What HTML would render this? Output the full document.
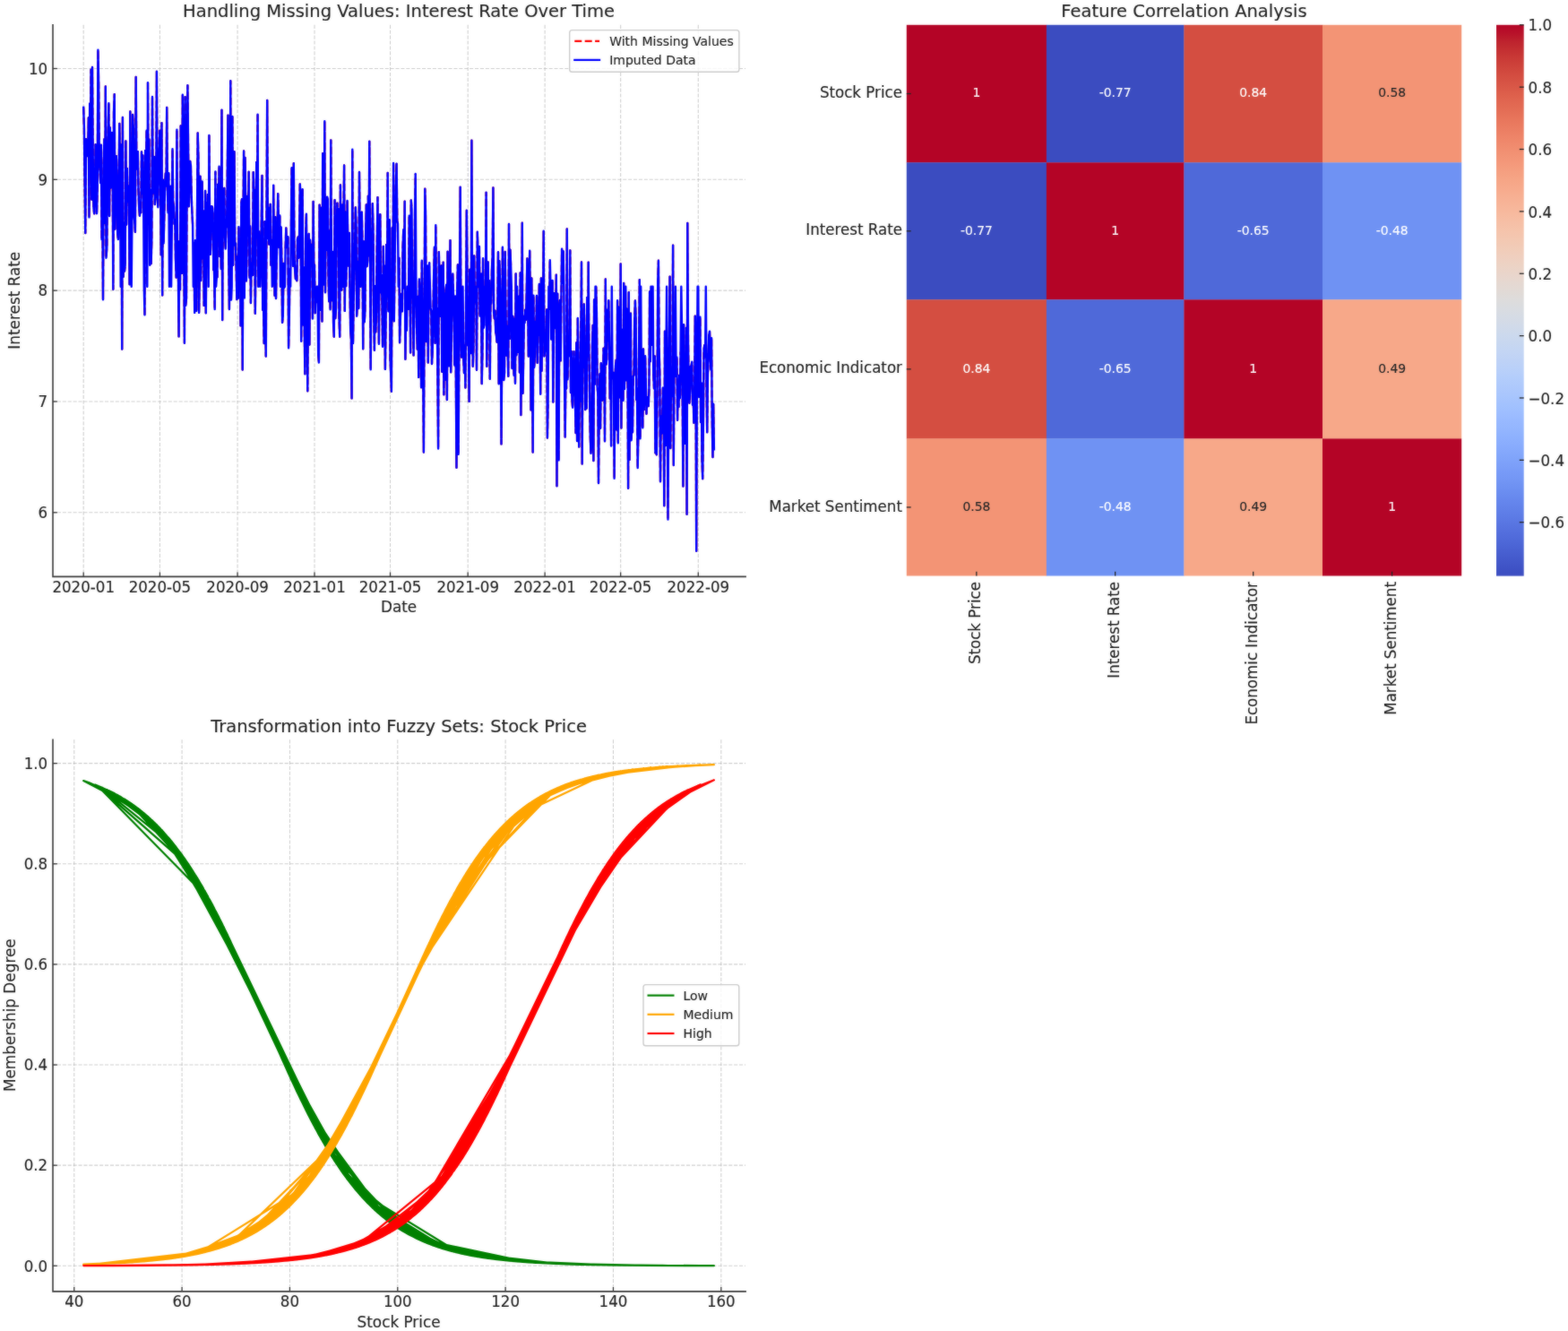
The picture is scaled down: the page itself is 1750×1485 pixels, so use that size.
<!DOCTYPE html>
<html lang="en">
<head>
<meta charset="utf-8">
<title>Feature analysis charts</title>
<style>
html, body { margin: 0; padding: 0; background: #ffffff; }
body { width: 1750px; height: 1485px; overflow: hidden; }
svg { display: block; }
svg text { font-family: "DejaVu Sans", "Liberation Sans", sans-serif; white-space: pre; }
</style>
</head>
<body>
<svg width="1750" height="1485" viewBox="0 0 1750 1485" font-family='"DejaVu Sans", "Liberation Sans", sans-serif'>
<rect width="1750" height="1485" fill="#ffffff"/>
<defs><filter id="soft" x="0" y="0" width="1750" height="1485" filterUnits="userSpaceOnUse" color-interpolation-filters="sRGB"><feGaussianBlur in="SourceGraphic" stdDeviation="0.9" result="b"/><feComposite in="b" in2="SourceGraphic" operator="arithmetic" k1="0" k2="0.35" k3="0.65" k4="0"/></filter></defs>
<g filter="url(#soft)">
<rect width="1750" height="1485" fill="#ffffff"/>
<line x1="93.19" y1="27.8" x2="93.19" y2="642.6" stroke="#b0b0b0" stroke-width="1.1" stroke-dasharray="4.1 1.8" opacity="0.6"/>
<line x1="178.42" y1="27.8" x2="178.42" y2="642.6" stroke="#b0b0b0" stroke-width="1.1" stroke-dasharray="4.1 1.8" opacity="0.6"/>
<line x1="265.07" y1="27.8" x2="265.07" y2="642.6" stroke="#b0b0b0" stroke-width="1.1" stroke-dasharray="4.1 1.8" opacity="0.6"/>
<line x1="351.01" y1="27.8" x2="351.01" y2="642.6" stroke="#b0b0b0" stroke-width="1.1" stroke-dasharray="4.1 1.8" opacity="0.6"/>
<line x1="435.54" y1="27.8" x2="435.54" y2="642.6" stroke="#b0b0b0" stroke-width="1.1" stroke-dasharray="4.1 1.8" opacity="0.6"/>
<line x1="522.19" y1="27.8" x2="522.19" y2="642.6" stroke="#b0b0b0" stroke-width="1.1" stroke-dasharray="4.1 1.8" opacity="0.6"/>
<line x1="608.13" y1="27.8" x2="608.13" y2="642.6" stroke="#b0b0b0" stroke-width="1.1" stroke-dasharray="4.1 1.8" opacity="0.6"/>
<line x1="692.66" y1="27.8" x2="692.66" y2="642.6" stroke="#b0b0b0" stroke-width="1.1" stroke-dasharray="4.1 1.8" opacity="0.6"/>
<line x1="779.3" y1="27.8" x2="779.3" y2="642.6" stroke="#b0b0b0" stroke-width="1.1" stroke-dasharray="4.1 1.8" opacity="0.6"/>
<line x1="58" y1="571.81" x2="832.1" y2="571.81" stroke="#b0b0b0" stroke-width="1.1" stroke-dasharray="4.1 1.8" opacity="0.6"/>
<line x1="58" y1="447.98" x2="832.1" y2="447.98" stroke="#b0b0b0" stroke-width="1.1" stroke-dasharray="4.1 1.8" opacity="0.6"/>
<line x1="58" y1="324.15" x2="832.1" y2="324.15" stroke="#b0b0b0" stroke-width="1.1" stroke-dasharray="4.1 1.8" opacity="0.6"/>
<line x1="58" y1="200.32" x2="832.1" y2="200.32" stroke="#b0b0b0" stroke-width="1.1" stroke-dasharray="4.1 1.8" opacity="0.6"/>
<line x1="58" y1="76.49" x2="832.1" y2="76.49" stroke="#b0b0b0" stroke-width="1.1" stroke-dasharray="4.1 1.8" opacity="0.6"/>
<clipPath id="c1"><rect x="58.0" y="27.8" width="774.1" height="614.8000000000001"/></clipPath>
<g clip-path="url(#c1)">
<path d="M93.2 119.8L93.9 141.6L94.6 205.1L95.3 260.0L96.0 155.2L96.7 174.3L97.4 165.9L98.1 172.2L98.8 131.5L99.5 242.4L100.2 115.5L100.9 185.0L101.6 77.8L102.3 222.5L103.0 75.0L103.8 184.8L104.5 232.1L105.2 238.4L105.9 213.4L106.6 161.3L107.3 191.1L108.0 238.3L108.7 208.1L109.4 55.7L110.1 92.6L110.8 180.9L111.5 190.2L112.2 204.2L112.9 161.8L113.6 267.2L114.3 216.2L115.0 334.3L115.7 183.4L116.4 155.3L117.1 248.9L117.8 96.4L118.5 287.7L119.3 275.9L120.0 179.4L120.7 147.6L121.4 115.1L122.1 241.0L122.8 142.5L123.5 209.6L124.2 203.6L124.9 147.9L125.6 165.6L126.3 322.7L127.0 125.1L127.7 105.2L128.4 255.5L129.1 183.7L129.8 174.2L130.5 204.9L131.2 260.5L131.9 267.1L132.6 205.4L133.3 138.0L134.0 185.1M135.5 161.5L136.2 389.5L136.9 130.9L137.6 308.8L138.3 248.7L139.0 302.6L139.7 296.0L140.4 157.5L141.1 250.6L141.8 188.0L142.5 225.1L143.2 207.4L143.9 213.0L144.6 317.2L145.3 124.5L146.0 259.7M147.4 242.2L148.1 127.9L148.8 142.7L149.5 239.0L150.2 246.4L150.9 258.9L151.7 85.9L152.4 187.5L153.1 188.6L153.8 169.2L154.5 211.2L155.2 231.6L155.9 240.9L156.6 228.3L157.3 237.2L158.0 169.4L158.7 216.1L159.4 173.4L160.1 210.7M161.5 351.3L162.2 167.9L162.9 200.5L163.6 145.8M165.0 92.1L165.7 224.6L166.4 155.5L167.2 295.7L167.9 212.0L168.6 294.2L169.3 268.9L170.0 107.9L170.7 215.6L171.4 214.0L172.1 175.0L172.8 228.1L173.5 216.9L174.2 210.0L174.9 79.8L175.6 218.4L176.3 231.3L177.0 174.1L177.7 171.4L178.4 145.6L179.1 208.4L179.8 284.2L180.5 137.2L181.2 329.4L181.9 200.6L182.6 271.5L183.4 237.3L184.1 205.7L184.8 193.5L185.5 207.5L186.2 120.0L186.9 211.1L187.6 237.3L188.3 193.3M189.7 306.3L190.4 207.6M191.8 256.3L192.5 166.3L193.2 224.9L193.9 230.3L194.6 250.0L195.3 245.0L196.0 289.1L196.7 309.6L197.4 144.8L198.1 293.4L198.9 302.0L199.6 375.4L200.3 269.1L201.0 323.0L201.7 140.5L202.4 167.4L203.1 304.7L203.8 105.7L204.5 164.0L205.2 268.0L205.9 382.7L206.6 108.1L207.3 340.9L208.0 332.4L208.7 189.6L209.4 95.3L210.1 165.9L210.8 230.3L211.5 202.1L212.2 180.0L212.9 184.5L213.6 215.2L214.3 235.6L215.1 251.3M216.5 271.3L217.2 348.9L217.9 268.3L218.6 302.4L219.3 346.7L220.0 241.6L220.7 148.4L221.4 175.3L222.1 348.9L222.8 304.4L223.5 196.8L224.2 313.1L224.9 259.7L225.6 202.4L226.3 288.4L227.0 235.4L227.7 340.9L228.4 287.8L229.1 212.9L229.8 349.2L230.6 226.2L231.3 239.2L232.0 216.9M233.4 151.0L234.1 246.6L234.8 283.7L235.5 256.2L236.2 230.1L236.9 230.8L237.6 237.0L238.3 301.2L239.0 299.0L239.7 345.1L240.4 191.5M241.8 309.6L242.5 309.2L243.2 205.8L243.9 267.7L244.6 185.8L245.3 286.0L246.0 233.9L246.8 300.1L247.5 122.8L248.2 357.1L248.9 212.8L249.6 224.6L250.3 210.0L251.0 261.5L251.7 277.6L252.4 254.4L253.1 252.4L253.8 188.3L254.5 128.6L255.2 282.8L255.9 345.1L256.6 263.9L257.3 90.3L258.0 334.6M259.4 129.9L260.1 295.7L260.8 215.9L261.5 169.3L262.2 273.5L263.0 271.3L263.7 302.6L264.4 334.1L265.1 286.1L265.8 332.7L266.5 253.3L267.2 301.1L267.9 269.2L268.6 363.4L269.3 226.2L270.0 222.3L270.7 412.5L271.4 252.7L272.1 168.5L272.8 332.4L273.5 175.9L274.2 229.3L274.9 313.4L275.6 277.6L276.3 218.7L277.0 259.6L277.7 191.8L278.5 309.8L279.2 252.2L279.9 338.1L280.6 293.4L281.3 304.8L282.0 306.9L282.7 192.1L283.4 217.5L284.1 212.0L284.8 349.8L285.5 287.7L286.2 181.0L286.9 265.4L287.6 127.6M289.0 258.2L289.7 283.9M291.1 287.6L291.8 246.0L292.5 195.9L293.2 345.8L293.9 329.2L294.7 383.0L295.4 247.3L296.1 343.5L296.8 397.5L297.5 245.6L298.2 112.0L298.9 265.8L299.6 231.6L300.3 272.6L301.0 271.0L301.7 227.9L302.4 295.7L303.1 267.7M304.5 305.8L305.2 206.6L305.9 295.3L306.6 329.8L307.3 242.2L308.0 333.0L308.7 290.3L309.4 269.7L310.2 216.2L310.9 245.0L311.6 276.0L312.3 240.4M313.7 253.5L314.4 293.7L315.1 359.9L315.8 353.0L316.5 294.0L317.2 320.9M318.6 277.3L319.3 254.5L320.0 274.4L320.7 276.2L321.4 264.2L322.1 388.2L322.8 353.6L323.5 300.1M324.9 252.5L325.6 187.2L326.4 195.8L327.1 296.8L327.8 182.2L328.5 286.0L329.2 302.4L329.9 311.4L330.6 298.6L331.3 313.3L332.0 266.8L332.7 264.5L333.4 287.7L334.1 261.1L334.8 205.4L335.5 221.0L336.2 380.7M337.6 211.1L338.3 362.3L339.0 298.1L339.7 363.4L340.4 417.2L341.1 264.7L341.9 238.8L342.6 323.5L343.3 436.3L344.0 322.2L344.7 261.0L345.4 384.6L346.1 267.7L346.8 296.9L347.5 272.9L348.2 281.3L348.9 355.5L349.6 225.0L350.3 295.7L351.0 295.5L351.7 349.2L352.4 320.2L353.1 337.0M355.2 395.5L355.9 404.6L356.6 228.6L357.3 296.7L358.1 345.8L358.8 231.7L359.5 358.6L360.2 171.2L360.9 242.2L361.6 317.6L362.3 135.2L363.0 326.3L363.7 240.2L364.4 279.1L365.1 219.6L365.8 222.8L366.5 306.3L367.2 336.3L367.9 257.4L368.6 345.3L369.3 156.5L370.0 312.0L370.7 335.2L371.4 281.0L372.1 360.7L372.8 375.7L373.6 223.2L374.3 355.2L375.0 344.6L375.7 259.1L376.4 226.6L377.1 256.3L377.8 233.2L378.5 355.3L379.2 375.8L379.9 206.5L380.6 322.9L381.3 323.6L382.0 228.5M383.4 255.2L384.1 184.5L384.8 346.9L385.5 236.5L386.2 319.1L386.9 288.5L387.6 223.9L388.3 273.6L389.0 296.6L389.8 260.0L390.5 324.5L391.2 369.2L391.9 378.1L392.6 444.4L393.3 166.7L394.0 383.0L394.7 333.2L395.4 302.0L396.1 273.2L396.8 231.4L397.5 250.8L398.2 352.7L398.9 336.9L399.6 291.6L400.3 344.0L401.0 192.0L401.7 257.4M403.1 273.1L403.8 236.6L404.5 273.1L405.2 389.3L406.0 269.5L406.7 359.3L407.4 348.2L408.1 263.2L408.8 228.4L409.5 297.2L410.2 292.0L410.9 218.6L411.6 285.3L412.3 157.8L413.0 271.3L413.7 412.3L414.4 265.4L415.1 277.2L415.8 227.2L416.5 257.6L417.2 347.3L417.9 390.8L418.6 319.1L419.3 370.4L420.0 349.9L420.7 276.4L421.5 220.1L422.2 301.0L422.9 383.8L423.6 281.9L424.3 239.3L425.0 326.3L425.7 306.9L426.4 333.6L427.1 386.8L427.8 274.9L428.5 333.0L429.2 296.5L429.9 411.9L430.6 360.0L431.3 273.0L432.0 330.8L432.7 193.0L433.4 347.3L434.1 297.0L434.8 245.2L435.5 400.6L436.2 416.7L436.9 436.7L437.7 254.3L438.4 355.9L439.1 182.0L439.8 358.2L440.5 300.4L441.2 246.2L441.9 205.5L442.6 182.8L443.3 246.4L444.0 249.5M445.4 287.6L446.1 382.3L446.8 358.1L447.5 332.2L448.2 327.7L448.9 347.5L449.6 275.3L450.3 256.2L451.0 321.4L451.7 224.7L452.4 400.8L453.2 338.4L453.9 368.7M455.3 325.7L456.0 344.9L456.7 240.7L457.4 277.3L458.1 393.4L458.8 223.5L459.5 233.0M460.9 335.5L461.6 396.4L462.3 343.8L463.0 240.7L463.7 193.9M465.1 364.7L465.8 389.6L466.5 330.9L467.2 420.9L467.9 311.4L468.6 326.6L469.4 353.5L470.1 432.3L470.8 290.7L471.5 361.7L472.2 418.6L472.9 504.6L473.6 346.2L474.3 210.7L475.0 238.4L475.7 381.1L476.4 341.9L477.1 296.5L477.8 404.6L478.5 314.7L479.2 293.3M480.6 343.9L481.3 347.6L482.0 406.0L482.7 391.8L483.4 355.9L484.1 310.1L484.9 275.6L485.6 382.8L486.3 251.1L487.0 350.5L487.7 344.1L488.4 411.4L489.1 500.5L489.8 281.1L490.5 309.4L491.2 352.8L491.9 311.3L492.6 296.5L493.3 414.7L494.0 369.8L494.7 292.7L495.4 440.3L496.1 328.0L496.8 423.6L497.5 324.0L498.2 317.7L498.9 446.0L499.6 280.8L500.3 370.8L501.1 408.2L501.8 335.9L502.5 268.1L503.2 415.3L503.9 369.1M505.3 305.5L506.0 329.0L506.7 358.0L507.4 407.6L508.1 330.4L508.8 413.9L509.5 521.8L510.2 326.0L510.9 295.5L511.6 506.7L512.3 404.0L513.0 306.4L513.7 208.8L514.4 341.8L515.1 398.6L515.8 369.8M517.3 400.3L518.0 416.1L518.7 385.1L519.4 432.6L520.1 333.4L520.8 234.8L521.5 309.0L522.2 385.4L522.9 377.7L523.6 447.9L524.3 300.8L525.0 343.2L525.7 394.0L526.4 156.7L527.1 335.9L527.8 408.8L528.5 385.9L529.2 285.4L529.9 337.2M531.3 320.9L532.0 412.8L532.8 258.8L533.5 282.1M534.9 274.9L535.6 352.5L536.3 317.0L537.0 305.5L537.7 428.1L538.4 394.9L539.1 288.2L539.8 365.7L540.5 362.2M541.9 332.9L542.6 214.8L543.3 408.8L544.0 353.3L544.7 292.5L545.4 361.2L546.1 313.1L546.8 422.7L547.5 330.3L548.2 338.7L549.0 299.0L549.7 284.6L550.4 209.5L551.1 348.5L551.8 355.5L552.5 346.6L553.2 370.4L553.9 373.4L554.6 381.7L555.3 352.7L556.0 281.3L556.7 428.2L557.4 291.3M558.8 364.7L559.5 495.4L560.2 395.6L560.9 275.8L561.6 367.9L562.3 424.1L563.0 415.6L563.7 281.0L564.5 345.8L565.2 396.6L565.9 363.7L566.6 386.9L567.3 419.7L568.0 250.0L568.7 378.0L569.4 278.8L570.1 295.7M571.5 411.1L572.2 352.8L572.9 356.7L573.6 418.8L574.3 355.6L575.0 427.8L575.7 305.4L576.4 396.2M577.8 362.1L578.5 392.7L579.2 330.6L579.9 415.4L580.7 304.5L581.4 463.1L582.1 371.9L582.8 248.7L583.5 438.8L584.2 399.6L584.9 353.0L585.6 360.2L586.3 345.7L587.0 356.8L587.7 326.3L588.4 288.5L589.1 330.2L589.8 397.5L590.5 317.8L591.2 279.7L591.9 358.3L592.6 457.4L593.3 310.4L594.0 382.8L594.7 504.6L595.4 329.6L596.2 410.0L596.9 396.8L597.6 358.7L598.3 368.1L599.0 329.9L599.7 404.8L600.4 350.9L601.1 374.0L601.8 316.9L602.5 350.7L603.2 439.8L603.9 310.5L604.6 413.7L605.3 334.8L606.0 351.4L606.7 257.6L607.4 397.6L608.1 391.1L608.8 388.0L609.5 379.7L610.2 345.5L610.9 488.5L611.6 451.2M613.1 345.1L613.8 290.2M615.2 378.6L615.9 372.2L616.6 312.9L617.3 448.6L618.0 361.3L618.7 327.2L619.4 345.1L620.1 366.4L620.8 306.6L621.5 542.2L622.2 327.8L622.9 415.2L623.6 513.4L624.3 343.8L625.0 335.0L625.7 402.4L626.4 331.3L627.1 277.8L627.9 315.7L628.6 280.1M630.0 416.3L630.7 487.5L631.4 419.2L632.1 433.5L632.8 255.4L633.5 423.3L634.2 375.3L634.9 379.3L635.6 397.3L636.3 279.5L637.0 438.1L637.7 391.9L638.4 445.9L639.1 454.7L639.8 421.6L640.5 392.2L641.2 418.8L641.9 444.0L642.6 483.0L643.3 382.5L644.1 492.1L644.8 354.9L645.5 396.5L646.2 498.6L646.9 424.6L647.6 447.7L648.3 375.0L649.0 292.4L649.7 517.6L650.4 391.9L651.1 409.9L651.8 339.5L652.5 370.6L653.2 457.0L653.9 416.9L654.6 455.6L655.3 331.9L656.0 397.4L656.7 292.6L657.4 396.3L658.1 444.2L658.8 487.4L659.5 505.9L660.3 494.1L661.0 386.3L661.7 363.0L662.4 514.1L663.1 334.4L663.8 428.7M665.2 319.7L665.9 348.8L666.6 431.5L667.3 439.1L668.0 539.1L668.7 458.4L669.4 417.2L670.1 477.7L670.8 405.3L671.5 416.5L672.2 446.5L672.9 440.1L673.6 388.6L674.3 395.5L675.0 492.2L675.8 311.5L676.5 406.5L677.2 401.2L677.9 345.6L678.6 380.5L679.3 335.1L680.0 379.5L680.7 444.6L681.4 387.8L682.1 497.6M683.5 422.3L684.2 418.5L684.9 415.9L685.6 533.7L686.3 429.1L687.0 408.3L687.7 401.7L688.4 479.5L689.1 335.3L689.8 494.3L690.5 342.6L691.2 377.8L692.0 443.3L692.7 294.5L693.4 477.5L694.1 369.6L694.8 367.7L695.5 446.7L696.2 316.0L696.9 434.1L697.6 388.3M699.0 424.3L699.7 344.8L700.4 384.0L701.1 544.8L701.8 326.2L702.5 512.9L703.2 354.6L703.9 349.6L704.6 491.2L705.3 466.1L706.0 482.3L706.7 419.7L707.5 418.5L708.2 359.4L708.9 335.5L709.6 353.0L710.3 445.9L711.0 433.5L711.7 522.0L712.4 482.8L713.1 390.0L713.8 312.1L714.5 489.3M715.9 429.5L716.6 425.2L717.3 477.3L718.0 389.5L718.7 457.1L719.4 435.3L720.1 397.3L720.8 427.1L721.5 461.7L722.2 443.0L722.9 444.5L723.7 453.1L724.4 436.4L725.1 325.5L725.8 403.2M727.2 384.8M729.3 417.1L730.0 433.4L730.7 397.5L731.4 505.3L732.1 504.2L732.8 507.3L733.5 443.6L734.2 314.8L734.9 290.7L735.6 390.0L736.3 415.2L737.0 537.2L737.7 464.2L738.4 483.7L739.2 468.4L739.9 432.8L740.6 459.8L741.3 564.2L742.0 369.6L742.7 497.0L743.4 405.7M744.8 467.7L745.5 579.6L746.2 452.5L746.9 381.6L747.6 308.6L748.3 500.1L749.0 423.7L749.7 442.2L750.4 410.9L751.1 273.6L751.8 519.0L752.5 404.0L753.2 412.4M754.6 420.1L755.4 398.4L756.1 468.7L756.8 425.2L757.5 454.1L758.2 418.7L758.9 444.2L759.6 392.6M761.0 365.1L761.7 441.8L762.4 542.6L763.1 362.3L763.8 476.9L764.5 494.9L765.2 472.7L765.9 365.8L766.6 573.8L767.3 249.0L768.0 379.5L768.7 429.8L769.4 449.7L770.1 437.3L770.8 409.0L771.6 407.9L772.3 403.8L773.0 451.8L773.7 443.6L774.4 471.7L775.1 451.9L775.8 352.6L776.5 405.6L777.2 614.7L777.9 411.1M780.0 442.7L780.7 367.1L781.4 353.8L782.1 471.0L782.8 427.2L783.5 513.2L784.2 534.2L784.9 470.6L785.6 390.0L786.3 385.2L787.1 398.4M788.5 423.9L789.2 482.2L789.9 419.1L790.6 398.8L791.3 374.0L792.0 369.6L792.7 394.2L793.4 412.6L794.1 377.2L794.8 471.1L795.5 510.0L796.2 450.8L796.9 501.2" fill="none" stroke="#ff0000" stroke-width="2.3" stroke-linejoin="round" stroke-linecap="butt" stroke-dasharray="8 3.4"/>
<path d="M93.2 119.8L93.9 141.6L94.6 205.1L95.3 260.0L96.0 155.2L96.7 174.3L97.4 165.9L98.1 172.2L98.8 131.5L99.5 242.4L100.2 115.5L100.9 185.0L101.6 77.8L102.3 222.5L103.0 75.0L103.8 184.8L104.5 232.1L105.2 238.4L105.9 213.4L106.6 161.3L107.3 191.1L108.0 238.3L108.7 208.1L109.4 55.7L110.1 92.6L110.8 180.9L111.5 190.2L112.2 204.2L112.9 161.8L113.6 267.2L114.3 216.2L115.0 334.3L115.7 183.4L116.4 155.3L117.1 248.9L117.8 96.4L118.5 287.7L119.3 275.9L120.0 179.4L120.7 147.6L121.4 115.1L122.1 241.0L122.8 142.5L123.5 209.6L124.2 203.6L124.9 147.9L125.6 165.6L126.3 322.7L127.0 125.1L127.7 105.2L128.4 255.5L129.1 183.7L129.8 174.2L130.5 204.9L131.2 260.5L131.9 267.1L132.6 205.4L133.3 138.0L134.0 185.1L134.7 319.7L135.5 161.5L136.2 389.5L136.9 130.9L137.6 308.8L138.3 248.7L139.0 302.6L139.7 296.0L140.4 157.5L141.1 250.6L141.8 188.0L142.5 225.1L143.2 207.4L143.9 213.0L144.6 317.2L145.3 124.5L146.0 259.7L146.7 319.7L147.4 242.2L148.1 127.9L148.8 142.7L149.5 239.0L150.2 246.4L150.9 258.9L151.7 85.9L152.4 187.5L153.1 188.6L153.8 169.2L154.5 211.2L155.2 231.6L155.9 240.9L156.6 228.3L157.3 237.2L158.0 169.4L158.7 216.1L159.4 173.4L160.1 210.7L160.8 319.7L161.5 351.3L162.2 167.9L162.9 200.5L163.6 145.8L164.3 319.7L165.0 92.1L165.7 224.6L166.4 155.5L167.2 295.7L167.9 212.0L168.6 294.2L169.3 268.9L170.0 107.9L170.7 215.6L171.4 214.0L172.1 175.0L172.8 228.1L173.5 216.9L174.2 210.0L174.9 79.8L175.6 218.4L176.3 231.3L177.0 174.1L177.7 171.4L178.4 145.6L179.1 208.4L179.8 284.2L180.5 137.2L181.2 329.4L181.9 200.6L182.6 271.5L183.4 237.3L184.1 205.7L184.8 193.5L185.5 207.5L186.2 120.0L186.9 211.1L187.6 237.3L188.3 193.3L189.0 319.7L189.7 306.3L190.4 207.6L191.1 319.7L191.8 256.3L192.5 166.3L193.2 224.9L193.9 230.3L194.6 250.0L195.3 245.0L196.0 289.1L196.7 309.6L197.4 144.8L198.1 293.4L198.9 302.0L199.6 375.4L200.3 269.1L201.0 323.0L201.7 140.5L202.4 167.4L203.1 304.7L203.8 105.7L204.5 164.0L205.2 268.0L205.9 382.7L206.6 108.1L207.3 340.9L208.0 332.4L208.7 189.6L209.4 95.3L210.1 165.9L210.8 230.3L211.5 202.1L212.2 180.0L212.9 184.5L213.6 215.2L214.3 235.6L215.1 251.3L215.8 319.7L216.5 271.3L217.2 348.9L217.9 268.3L218.6 302.4L219.3 346.7L220.0 241.6L220.7 148.4L221.4 175.3L222.1 348.9L222.8 304.4L223.5 196.8L224.2 313.1L224.9 259.7L225.6 202.4L226.3 288.4L227.0 235.4L227.7 340.9L228.4 287.8L229.1 212.9L229.8 349.2L230.6 226.2L231.3 239.2L232.0 216.9L232.7 319.7L233.4 151.0L234.1 246.6L234.8 283.7L235.5 256.2L236.2 230.1L236.9 230.8L237.6 237.0L238.3 301.2L239.0 299.0L239.7 345.1L240.4 191.5L241.1 319.7L241.8 309.6L242.5 309.2L243.2 205.8L243.9 267.7L244.6 185.8L245.3 286.0L246.0 233.9L246.8 300.1L247.5 122.8L248.2 357.1L248.9 212.8L249.6 224.6L250.3 210.0L251.0 261.5L251.7 277.6L252.4 254.4L253.1 252.4L253.8 188.3L254.5 128.6L255.2 282.8L255.9 345.1L256.6 263.9L257.3 90.3L258.0 334.6L258.7 319.7L259.4 129.9L260.1 295.7L260.8 215.9L261.5 169.3L262.2 273.5L263.0 271.3L263.7 302.6L264.4 334.1L265.1 286.1L265.8 332.7L266.5 253.3L267.2 301.1L267.9 269.2L268.6 363.4L269.3 226.2L270.0 222.3L270.7 412.5L271.4 252.7L272.1 168.5L272.8 332.4L273.5 175.9L274.2 229.3L274.9 313.4L275.6 277.6L276.3 218.7L277.0 259.6L277.7 191.8L278.5 309.8L279.2 252.2L279.9 338.1L280.6 293.4L281.3 304.8L282.0 306.9L282.7 192.1L283.4 217.5L284.1 212.0L284.8 349.8L285.5 287.7L286.2 181.0L286.9 265.4L287.6 127.6L288.3 319.7L289.0 258.2L289.7 283.9L290.4 319.7L291.1 287.6L291.8 246.0L292.5 195.9L293.2 345.8L293.9 329.2L294.7 383.0L295.4 247.3L296.1 343.5L296.8 397.5L297.5 245.6L298.2 112.0L298.9 265.8L299.6 231.6L300.3 272.6L301.0 271.0L301.7 227.9L302.4 295.7L303.1 267.7L303.8 319.7L304.5 305.8L305.2 206.6L305.9 295.3L306.6 329.8L307.3 242.2L308.0 333.0L308.7 290.3L309.4 269.7L310.2 216.2L310.9 245.0L311.6 276.0L312.3 240.4L313.0 319.7L313.7 253.5L314.4 293.7L315.1 359.9L315.8 353.0L316.5 294.0L317.2 320.9L317.9 319.7L318.6 277.3L319.3 254.5L320.0 274.4L320.7 276.2L321.4 264.2L322.1 388.2L322.8 353.6L323.5 300.1L324.2 319.7L324.9 252.5L325.6 187.2L326.4 195.8L327.1 296.8L327.8 182.2L328.5 286.0L329.2 302.4L329.9 311.4L330.6 298.6L331.3 313.3L332.0 266.8L332.7 264.5L333.4 287.7L334.1 261.1L334.8 205.4L335.5 221.0L336.2 380.7L336.9 319.7L337.6 211.1L338.3 362.3L339.0 298.1L339.7 363.4L340.4 417.2L341.1 264.7L341.9 238.8L342.6 323.5L343.3 436.3L344.0 322.2L344.7 261.0L345.4 384.6L346.1 267.7L346.8 296.9L347.5 272.9L348.2 281.3L348.9 355.5L349.6 225.0L350.3 295.7L351.0 295.5L351.7 349.2L352.4 320.2L353.1 337.0L353.8 319.7L354.5 319.7L355.2 395.5L355.9 404.6L356.6 228.6L357.3 296.7L358.1 345.8L358.8 231.7L359.5 358.6L360.2 171.2L360.9 242.2L361.6 317.6L362.3 135.2L363.0 326.3L363.7 240.2L364.4 279.1L365.1 219.6L365.8 222.8L366.5 306.3L367.2 336.3L367.9 257.4L368.6 345.3L369.3 156.5L370.0 312.0L370.7 335.2L371.4 281.0L372.1 360.7L372.8 375.7L373.6 223.2L374.3 355.2L375.0 344.6L375.7 259.1L376.4 226.6L377.1 256.3L377.8 233.2L378.5 355.3L379.2 375.8L379.9 206.5L380.6 322.9L381.3 323.6L382.0 228.5L382.7 319.7L383.4 255.2L384.1 184.5L384.8 346.9L385.5 236.5L386.2 319.1L386.9 288.5L387.6 223.9L388.3 273.6L389.0 296.6L389.8 260.0L390.5 324.5L391.2 369.2L391.9 378.1L392.6 444.4L393.3 166.7L394.0 383.0L394.7 333.2L395.4 302.0L396.1 273.2L396.8 231.4L397.5 250.8L398.2 352.7L398.9 336.9L399.6 291.6L400.3 344.0L401.0 192.0L401.7 257.4L402.4 319.7L403.1 273.1L403.8 236.6L404.5 273.1L405.2 389.3L406.0 269.5L406.7 359.3L407.4 348.2L408.1 263.2L408.8 228.4L409.5 297.2L410.2 292.0L410.9 218.6L411.6 285.3L412.3 157.8L413.0 271.3L413.7 412.3L414.4 265.4L415.1 277.2L415.8 227.2L416.5 257.6L417.2 347.3L417.9 390.8L418.6 319.1L419.3 370.4L420.0 349.9L420.7 276.4L421.5 220.1L422.2 301.0L422.9 383.8L423.6 281.9L424.3 239.3L425.0 326.3L425.7 306.9L426.4 333.6L427.1 386.8L427.8 274.9L428.5 333.0L429.2 296.5L429.9 411.9L430.6 360.0L431.3 273.0L432.0 330.8L432.7 193.0L433.4 347.3L434.1 297.0L434.8 245.2L435.5 400.6L436.2 416.7L436.9 436.7L437.7 254.3L438.4 355.9L439.1 182.0L439.8 358.2L440.5 300.4L441.2 246.2L441.9 205.5L442.6 182.8L443.3 246.4L444.0 249.5L444.7 319.7L445.4 287.6L446.1 382.3L446.8 358.1L447.5 332.2L448.2 327.7L448.9 347.5L449.6 275.3L450.3 256.2L451.0 321.4L451.7 224.7L452.4 400.8L453.2 338.4L453.9 368.7L454.6 319.7L455.3 325.7L456.0 344.9L456.7 240.7L457.4 277.3L458.1 393.4L458.8 223.5L459.5 233.0L460.2 319.7L460.9 335.5L461.6 396.4L462.3 343.8L463.0 240.7L463.7 193.9L464.4 319.7L465.1 364.7L465.8 389.6L466.5 330.9L467.2 420.9L467.9 311.4L468.6 326.6L469.4 353.5L470.1 432.3L470.8 290.7L471.5 361.7L472.2 418.6L472.9 504.6L473.6 346.2L474.3 210.7L475.0 238.4L475.7 381.1L476.4 341.9L477.1 296.5L477.8 404.6L478.5 314.7L479.2 293.3L479.9 319.7L480.6 343.9L481.3 347.6L482.0 406.0L482.7 391.8L483.4 355.9L484.1 310.1L484.9 275.6L485.6 382.8L486.3 251.1L487.0 350.5L487.7 344.1L488.4 411.4L489.1 500.5L489.8 281.1L490.5 309.4L491.2 352.8L491.9 311.3L492.6 296.5L493.3 414.7L494.0 369.8L494.7 292.7L495.4 440.3L496.1 328.0L496.8 423.6L497.5 324.0L498.2 317.7L498.9 446.0L499.6 280.8L500.3 370.8L501.1 408.2L501.8 335.9L502.5 268.1L503.2 415.3L503.9 369.1L504.6 319.7L505.3 305.5L506.0 329.0L506.7 358.0L507.4 407.6L508.1 330.4L508.8 413.9L509.5 521.8L510.2 326.0L510.9 295.5L511.6 506.7L512.3 404.0L513.0 306.4L513.7 208.8L514.4 341.8L515.1 398.6L515.8 369.8L516.5 319.7L517.3 400.3L518.0 416.1L518.7 385.1L519.4 432.6L520.1 333.4L520.8 234.8L521.5 309.0L522.2 385.4L522.9 377.7L523.6 447.9L524.3 300.8L525.0 343.2L525.7 394.0L526.4 156.7L527.1 335.9L527.8 408.8L528.5 385.9L529.2 285.4L529.9 337.2L530.6 319.7L531.3 320.9L532.0 412.8L532.8 258.8L533.5 282.1L534.2 319.7L534.9 274.9L535.6 352.5L536.3 317.0L537.0 305.5L537.7 428.1L538.4 394.9L539.1 288.2L539.8 365.7L540.5 362.2L541.2 319.7L541.9 332.9L542.6 214.8L543.3 408.8L544.0 353.3L544.7 292.5L545.4 361.2L546.1 313.1L546.8 422.7L547.5 330.3L548.2 338.7L549.0 299.0L549.7 284.6L550.4 209.5L551.1 348.5L551.8 355.5L552.5 346.6L553.2 370.4L553.9 373.4L554.6 381.7L555.3 352.7L556.0 281.3L556.7 428.2L557.4 291.3L558.1 319.7L558.8 364.7L559.5 495.4L560.2 395.6L560.9 275.8L561.6 367.9L562.3 424.1L563.0 415.6L563.7 281.0L564.5 345.8L565.2 396.6L565.9 363.7L566.6 386.9L567.3 419.7L568.0 250.0L568.7 378.0L569.4 278.8L570.1 295.7L570.8 319.7L571.5 411.1L572.2 352.8L572.9 356.7L573.6 418.8L574.3 355.6L575.0 427.8L575.7 305.4L576.4 396.2L577.1 319.7L577.8 362.1L578.5 392.7L579.2 330.6L579.9 415.4L580.7 304.5L581.4 463.1L582.1 371.9L582.8 248.7L583.5 438.8L584.2 399.6L584.9 353.0L585.6 360.2L586.3 345.7L587.0 356.8L587.7 326.3L588.4 288.5L589.1 330.2L589.8 397.5L590.5 317.8L591.2 279.7L591.9 358.3L592.6 457.4L593.3 310.4L594.0 382.8L594.7 504.6L595.4 329.6L596.2 410.0L596.9 396.8L597.6 358.7L598.3 368.1L599.0 329.9L599.7 404.8L600.4 350.9L601.1 374.0L601.8 316.9L602.5 350.7L603.2 439.8L603.9 310.5L604.6 413.7L605.3 334.8L606.0 351.4L606.7 257.6L607.4 397.6L608.1 391.1L608.8 388.0L609.5 379.7L610.2 345.5L610.9 488.5L611.6 451.2L612.4 319.7L613.1 345.1L613.8 290.2L614.5 319.7L615.2 378.6L615.9 372.2L616.6 312.9L617.3 448.6L618.0 361.3L618.7 327.2L619.4 345.1L620.1 366.4L620.8 306.6L621.5 542.2L622.2 327.8L622.9 415.2L623.6 513.4L624.3 343.8L625.0 335.0L625.7 402.4L626.4 331.3L627.1 277.8L627.9 315.7L628.6 280.1L629.3 319.7L630.0 416.3L630.7 487.5L631.4 419.2L632.1 433.5L632.8 255.4L633.5 423.3L634.2 375.3L634.9 379.3L635.6 397.3L636.3 279.5L637.0 438.1L637.7 391.9L638.4 445.9L639.1 454.7L639.8 421.6L640.5 392.2L641.2 418.8L641.9 444.0L642.6 483.0L643.3 382.5L644.1 492.1L644.8 354.9L645.5 396.5L646.2 498.6L646.9 424.6L647.6 447.7L648.3 375.0L649.0 292.4L649.7 517.6L650.4 391.9L651.1 409.9L651.8 339.5L652.5 370.6L653.2 457.0L653.9 416.9L654.6 455.6L655.3 331.9L656.0 397.4L656.7 292.6L657.4 396.3L658.1 444.2L658.8 487.4L659.5 505.9L660.3 494.1L661.0 386.3L661.7 363.0L662.4 514.1L663.1 334.4L663.8 428.7L664.5 319.7L665.2 319.7L665.9 348.8L666.6 431.5L667.3 439.1L668.0 539.1L668.7 458.4L669.4 417.2L670.1 477.7L670.8 405.3L671.5 416.5L672.2 446.5L672.9 440.1L673.6 388.6L674.3 395.5L675.0 492.2L675.8 311.5L676.5 406.5L677.2 401.2L677.9 345.6L678.6 380.5L679.3 335.1L680.0 379.5L680.7 444.6L681.4 387.8L682.1 497.6L682.8 319.7L683.5 422.3L684.2 418.5L684.9 415.9L685.6 533.7L686.3 429.1L687.0 408.3L687.7 401.7L688.4 479.5L689.1 335.3L689.8 494.3L690.5 342.6L691.2 377.8L692.0 443.3L692.7 294.5L693.4 477.5L694.1 369.6L694.8 367.7L695.5 446.7L696.2 316.0L696.9 434.1L697.6 388.3L698.3 319.7L699.0 424.3L699.7 344.8L700.4 384.0L701.1 544.8L701.8 326.2L702.5 512.9L703.2 354.6L703.9 349.6L704.6 491.2L705.3 466.1L706.0 482.3L706.7 419.7L707.5 418.5L708.2 359.4L708.9 335.5L709.6 353.0L710.3 445.9L711.0 433.5L711.7 522.0L712.4 482.8L713.1 390.0L713.8 312.1L714.5 489.3L715.2 319.7L715.9 429.5L716.6 425.2L717.3 477.3L718.0 389.5L718.7 457.1L719.4 435.3L720.1 397.3L720.8 427.1L721.5 461.7L722.2 443.0L722.9 444.5L723.7 453.1L724.4 436.4L725.1 325.5L725.8 403.2L726.5 319.7L727.2 384.8L727.9 319.7L728.6 319.7L729.3 417.1L730.0 433.4L730.7 397.5L731.4 505.3L732.1 504.2L732.8 507.3L733.5 443.6L734.2 314.8L734.9 290.7L735.6 390.0L736.3 415.2L737.0 537.2L737.7 464.2L738.4 483.7L739.2 468.4L739.9 432.8L740.6 459.8L741.3 564.2L742.0 369.6L742.7 497.0L743.4 405.7L744.1 319.7L744.8 467.7L745.5 579.6L746.2 452.5L746.9 381.6L747.6 308.6L748.3 500.1L749.0 423.7L749.7 442.2L750.4 410.9L751.1 273.6L751.8 519.0L752.5 404.0L753.2 412.4L753.9 319.7L754.6 420.1L755.4 398.4L756.1 468.7L756.8 425.2L757.5 454.1L758.2 418.7L758.9 444.2L759.6 392.6L760.3 319.7L761.0 365.1L761.7 441.8L762.4 542.6L763.1 362.3L763.8 476.9L764.5 494.9L765.2 472.7L765.9 365.8L766.6 573.8L767.3 249.0L768.0 379.5L768.7 429.8L769.4 449.7L770.1 437.3L770.8 409.0L771.6 407.9L772.3 403.8L773.0 451.8L773.7 443.6L774.4 471.7L775.1 451.9L775.8 352.6L776.5 405.6L777.2 614.7L777.9 411.1L778.6 319.7L779.3 319.7L780.0 442.7L780.7 367.1L781.4 353.8L782.1 471.0L782.8 427.2L783.5 513.2L784.2 534.2L784.9 470.6L785.6 390.0L786.3 385.2L787.1 398.4L787.8 319.7L788.5 423.9L789.2 482.2L789.9 419.1L790.6 398.8L791.3 374.0L792.0 369.6L792.7 394.2L793.4 412.6L794.1 377.2L794.8 471.1L795.5 510.0L796.2 450.8L796.9 501.2" fill="none" stroke="#0000ff" stroke-width="2.4" stroke-linejoin="round" stroke-linecap="square"/>
</g>
<path d="M59 27L59 643.4L832.9 643.4" fill="none" stroke="#3a3a3a" stroke-width="1.6" stroke-linejoin="miter"/>
<line x1="93.19" y1="643.4" x2="93.19" y2="638.5" stroke="#3a3a3a" stroke-width="1.3"/>
<line x1="178.42" y1="643.4" x2="178.42" y2="638.5" stroke="#3a3a3a" stroke-width="1.3"/>
<line x1="265.07" y1="643.4" x2="265.07" y2="638.5" stroke="#3a3a3a" stroke-width="1.3"/>
<line x1="351.01" y1="643.4" x2="351.01" y2="638.5" stroke="#3a3a3a" stroke-width="1.3"/>
<line x1="435.54" y1="643.4" x2="435.54" y2="638.5" stroke="#3a3a3a" stroke-width="1.3"/>
<line x1="522.19" y1="643.4" x2="522.19" y2="638.5" stroke="#3a3a3a" stroke-width="1.3"/>
<line x1="608.13" y1="643.4" x2="608.13" y2="638.5" stroke="#3a3a3a" stroke-width="1.3"/>
<line x1="692.66" y1="643.4" x2="692.66" y2="638.5" stroke="#3a3a3a" stroke-width="1.3"/>
<line x1="779.3" y1="643.4" x2="779.3" y2="638.5" stroke="#3a3a3a" stroke-width="1.3"/>
<line x1="59" y1="571.81" x2="63.9" y2="571.81" stroke="#3a3a3a" stroke-width="1.3"/>
<line x1="59" y1="447.98" x2="63.9" y2="447.98" stroke="#3a3a3a" stroke-width="1.3"/>
<line x1="59" y1="324.15" x2="63.9" y2="324.15" stroke="#3a3a3a" stroke-width="1.3"/>
<line x1="59" y1="200.32" x2="63.9" y2="200.32" stroke="#3a3a3a" stroke-width="1.3"/>
<line x1="59" y1="76.49" x2="63.9" y2="76.49" stroke="#3a3a3a" stroke-width="1.3"/>
<text transform="translate(93.19 660.93) scale(1 1.03)" font-size="16.67" text-anchor="middle" fill="#1e1e1e" stroke="#1e1e1e" stroke-width="0.15">2020-01</text>
<text transform="translate(178.42 660.93) scale(1 1.03)" font-size="16.67" text-anchor="middle" fill="#1e1e1e" stroke="#1e1e1e" stroke-width="0.15">2020-05</text>
<text transform="translate(265.07 660.93) scale(1 1.03)" font-size="16.67" text-anchor="middle" fill="#1e1e1e" stroke="#1e1e1e" stroke-width="0.15">2020-09</text>
<text transform="translate(351.01 660.93) scale(1 1.03)" font-size="16.67" text-anchor="middle" fill="#1e1e1e" stroke="#1e1e1e" stroke-width="0.15">2021-01</text>
<text transform="translate(435.54 660.93) scale(1 1.03)" font-size="16.67" text-anchor="middle" fill="#1e1e1e" stroke="#1e1e1e" stroke-width="0.15">2021-05</text>
<text transform="translate(522.19 660.93) scale(1 1.03)" font-size="16.67" text-anchor="middle" fill="#1e1e1e" stroke="#1e1e1e" stroke-width="0.15">2021-09</text>
<text transform="translate(608.13 660.93) scale(1 1.03)" font-size="16.67" text-anchor="middle" fill="#1e1e1e" stroke="#1e1e1e" stroke-width="0.15">2022-01</text>
<text transform="translate(692.66 660.93) scale(1 1.03)" font-size="16.67" text-anchor="middle" fill="#1e1e1e" stroke="#1e1e1e" stroke-width="0.15">2022-05</text>
<text transform="translate(779.3 660.93) scale(1 1.03)" font-size="16.67" text-anchor="middle" fill="#1e1e1e" stroke="#1e1e1e" stroke-width="0.15">2022-09</text>
<text transform="translate(53.14 578.14) scale(1 1.03)" font-size="16.67" text-anchor="end" fill="#1e1e1e" stroke="#1e1e1e" stroke-width="0.15">6</text>
<text transform="translate(53.14 454.31) scale(1 1.03)" font-size="16.67" text-anchor="end" fill="#1e1e1e" stroke="#1e1e1e" stroke-width="0.15">7</text>
<text transform="translate(53.14 330.48) scale(1 1.03)" font-size="16.67" text-anchor="end" fill="#1e1e1e" stroke="#1e1e1e" stroke-width="0.15">8</text>
<text transform="translate(53.14 206.66) scale(1 1.03)" font-size="16.67" text-anchor="end" fill="#1e1e1e" stroke="#1e1e1e" stroke-width="0.15">9</text>
<text transform="translate(53.14 82.83) scale(1 1.03)" font-size="16.67" text-anchor="end" fill="#1e1e1e" stroke="#1e1e1e" stroke-width="0.15">10</text>
<text transform="translate(445.05 19.07) scale(1 1.03)" font-size="19.53" text-anchor="middle" fill="#1e1e1e" stroke="#1e1e1e" stroke-width="0.15">Handling Missing Values: Interest Rate Over Time</text>
<text transform="translate(445.05 683.16) scale(1 1.03)" font-size="16.85" text-anchor="middle" fill="#1e1e1e" stroke="#1e1e1e" stroke-width="0.15">Date</text>
<text transform="translate(21.97 335.2) rotate(-90) scale(1 1.03)" font-size="16.85" text-anchor="middle" fill="#1e1e1e" stroke="#1e1e1e" stroke-width="0.15">Interest Rate</text>
<rect x="635.7" y="33.6" width="189.2" height="46.7" rx="2.8" ry="2.8" fill="#ffffff" fill-opacity="0.8" stroke="#cccccc" stroke-width="1.4"/>
<line x1="641.3" y1="45.8" x2="669.1" y2="45.8" stroke="#ff0000" stroke-width="2.2" stroke-dasharray="8 3.4"/>
<text transform="translate(680.2 50.7) scale(1 1.03)" font-size="14.0" text-anchor="start" fill="#1e1e1e" stroke="#1e1e1e" stroke-width="0.15">With Missing Values</text>
<line x1="641.3" y1="66.9" x2="669.1" y2="66.9" stroke="#0000ff" stroke-width="2.2" stroke-linecap="square"/>
<text transform="translate(680.2 71.8) scale(1 1.03)" font-size="14.0" text-anchor="start" fill="#1e1e1e" stroke="#1e1e1e" stroke-width="0.15">Imputed Data</text>
<line x1="82.75" y1="825.3" x2="82.75" y2="1440.1" stroke="#b0b0b0" stroke-width="1.1" stroke-dasharray="4.1 1.8" opacity="0.6"/>
<line x1="203.09" y1="825.3" x2="203.09" y2="1440.1" stroke="#b0b0b0" stroke-width="1.1" stroke-dasharray="4.1 1.8" opacity="0.6"/>
<line x1="323.43" y1="825.3" x2="323.43" y2="1440.1" stroke="#b0b0b0" stroke-width="1.1" stroke-dasharray="4.1 1.8" opacity="0.6"/>
<line x1="443.78" y1="825.3" x2="443.78" y2="1440.1" stroke="#b0b0b0" stroke-width="1.1" stroke-dasharray="4.1 1.8" opacity="0.6"/>
<line x1="564.12" y1="825.3" x2="564.12" y2="1440.1" stroke="#b0b0b0" stroke-width="1.1" stroke-dasharray="4.1 1.8" opacity="0.6"/>
<line x1="684.46" y1="825.3" x2="684.46" y2="1440.1" stroke="#b0b0b0" stroke-width="1.1" stroke-dasharray="4.1 1.8" opacity="0.6"/>
<line x1="804.81" y1="825.3" x2="804.81" y2="1440.1" stroke="#b0b0b0" stroke-width="1.1" stroke-dasharray="4.1 1.8" opacity="0.6"/>
<line x1="58" y1="1412.28" x2="832.1" y2="1412.28" stroke="#b0b0b0" stroke-width="1.1" stroke-dasharray="4.1 1.8" opacity="0.6"/>
<line x1="58" y1="1300.16" x2="832.1" y2="1300.16" stroke="#b0b0b0" stroke-width="1.1" stroke-dasharray="4.1 1.8" opacity="0.6"/>
<line x1="58" y1="1188.04" x2="832.1" y2="1188.04" stroke="#b0b0b0" stroke-width="1.1" stroke-dasharray="4.1 1.8" opacity="0.6"/>
<line x1="58" y1="1075.91" x2="832.1" y2="1075.91" stroke="#b0b0b0" stroke-width="1.1" stroke-dasharray="4.1 1.8" opacity="0.6"/>
<line x1="58" y1="963.79" x2="832.1" y2="963.79" stroke="#b0b0b0" stroke-width="1.1" stroke-dasharray="4.1 1.8" opacity="0.6"/>
<line x1="58" y1="851.67" x2="832.1" y2="851.67" stroke="#b0b0b0" stroke-width="1.1" stroke-dasharray="4.1 1.8" opacity="0.6"/>
<clipPath id="c3"><rect x="58.0" y="825.3" width="774.1" height="614.8"/></clipPath>
<g clip-path="url(#c3)">
<path d="M157.9 905.0L139.4 891.9L163.6 909.8L190.5 937.6L138.3 891.3L138.9 891.6L194.0 942.0L170.2 915.8L133.6 888.5L164.7 910.8L135.0 889.3L135.5 889.6L157.4 904.7L93.2 871.1L99.5 873.2L135.0 889.3L122.1 882.4L162.6 909.0L126.4 884.6L111.9 877.9L199.1 948.5L148.8 898.2L158.2 905.3L113.9 878.7L141.0 893.0L161.3 907.9L124.0 883.3L170.5 916.1L141.7 893.4L151.6 900.2L142.9 894.2L217.3 975.2L161.8 908.3L131.0 887.0L188.1 934.8L127.3 885.0L170.9 916.4L106.2 875.6L125.8 884.3L172.3 917.8L189.2 936.1L172.8 918.3L164.7 910.8L159.8 906.6L124.9 883.8L148.4 897.9L156.8 904.2L203.0 953.9L182.2 928.0L119.4 881.2L182.8 928.7L162.1 908.5L153.9 901.9L193.2 941.0L206.5 958.7L204.1 955.3L151.4 900.1L167.9 913.7L187.8 934.4L207.8 960.7L164.6 910.7L174.1 919.5L147.0 896.9L144.9 895.5L205.9 957.9L222.9 984.3L180.5 926.2L213.5 969.2L194.8 942.9L165.1 911.1L196.0 944.4L232.0 1000.2L185.2 931.4L234.0 1003.9L108.7 876.6L212.8 968.2L191.3 938.6L180.3 926.0L192.7 940.2L130.7 886.9L184.5 930.6L202.5 953.1L236.8 1009.1L177.3 922.8L169.2 914.8L179.0 924.6L222.3 983.3L205.2 956.9L180.0 925.6L212.0 966.9L200.0 949.8L226.9 991.2L177.2 922.7L189.1 935.9L187.7 934.3L156.1 903.6L209.7 963.4L209.2 962.7L202.1 952.6L195.5 943.8L160.6 907.3L191.1 938.3L194.0 942.0L180.8 926.5L200.7 950.7L218.3 976.8L263.5 1063.9L212.6 967.8L215.7 972.7L206.3 958.5L151.4 900.1L209.0 962.4L212.2 967.2L285.1 1112.8L205.8 957.7L221.3 981.6L211.7 966.5L178.2 923.8L248.4 1031.8L237.2 1010.0L239.0 1013.3L188.4 935.1L258.6 1053.2L174.8 920.3L235.3 1006.3L284.1 1110.5L189.0 935.8L202.4 952.9L223.0 984.6L205.5 957.3L174.6 920.0L223.9 986.0L190.5 937.5L237.3 1010.1L196.0 944.4L270.9 1080.2L201.3 951.4L215.7 972.7L250.5 1036.2L189.6 936.5L234.1 1004.1L267.2 1071.9L180.1 925.7L234.6 1005.1L237.5 1010.4L253.8 1043.0L193.6 941.5L191.7 939.1L247.8 1030.6L241.6 1018.4L240.8 1016.8L244.3 1023.6L214.0 970.0L242.1 1019.3L244.5 1024.0L214.8 971.2L293.0 1131.2L251.7 1038.7L202.2 952.8L258.4 1052.9L210.0 963.8L263.6 1064.0L275.4 1090.4L216.4 973.8L270.7 1079.8L254.7 1045.0L267.6 1073.0L300.6 1148.8L236.7 1009.0L222.0 982.9L218.6 977.2L221.4 981.8L244.2 1023.5L257.4 1050.6L256.0 1047.8L273.2 1085.5L249.3 1033.8L293.3 1131.8L242.2 1019.5L332.6 1220.2L270.2 1078.6L226.2 989.9L220.3 980.1L267.7 1073.0L247.0 1029.1L275.8 1091.5L269.2 1076.4L253.4 1042.1L230.7 997.9L211.2 965.7L243.9 1022.9L283.7 1109.6L265.0 1067.2L221.7 982.3L265.0 1067.1L272.0 1082.7L234.4 1004.7L266.2 1069.8L263.9 1064.8L228.4 993.8L274.1 1087.6L280.9 1103.0L297.2 1140.9L296.9 1140.2L224.3 986.8L238.2 1011.8L282.5 1106.8L283.1 1108.1L283.7 1109.5L384.7 1311.5L286.6 1116.2L304.2 1157.1L299.3 1145.9L290.8 1126.1L262.3 1061.3L295.3 1136.4L249.8 1034.7L266.5 1070.5L259.6 1055.4L277.3 1094.8L345.1 1245.5L219.9 979.3L297.3 1141.1L228.7 994.4L263.6 1064.1L311.2 1173.3L281.0 1103.3L247.2 1029.5L258.7 1053.5L301.3 1150.5L259.5 1055.1L288.6 1120.8L284.0 1110.3L263.7 1064.2L348.4 1251.9L303.5 1155.6L224.1 986.5L291.3 1127.2L266.4 1070.1L312.5 1176.3L263.6 1064.1L284.6 1111.7L303.9 1156.4L315.3 1182.6L253.8 1043.0L280.4 1102.0L276.8 1093.7L272.0 1082.8L345.4 1246.2L305.1 1159.2L255.6 1046.7L321.7 1196.9L358.6 1270.5L326.4 1207.0L250.2 1035.6L281.9 1105.5L335.2 1225.8L276.4 1092.8L311.7 1174.3L322.2 1198.0L271.6 1081.9L298.3 1143.6L203.2 954.1L270.5 1079.4L294.3 1134.3L265.0 1067.1L352.2 1259.2L260.7 1057.8L291.1 1126.7L308.9 1167.9L348.9 1252.9L262.9 1062.6L341.7 1239.0L307.7 1165.2L278.4 1097.4L322.5 1198.5L315.1 1182.2L291.7 1128.1L312.5 1176.1L299.4 1146.0L315.0 1181.8L332.1 1219.2L360.5 1273.9L276.1 1092.2L378.2 1302.2L255.8 1047.4L310.6 1171.9L333.5 1222.1L324.8 1203.7L298.3 1143.4L311.3 1173.6L303.4 1155.2L301.1 1149.9L345.0 1245.3L330.7 1216.4L299.8 1146.9L348.3 1251.7L331.1 1217.0L346.9 1249.0L342.0 1239.4L298.7 1144.4L307.4 1164.5L347.3 1249.9L343.8 1243.0L325.4 1204.9L330.2 1215.1L365.7 1282.7L310.0 1170.6L344.9 1245.2L323.0 1199.6L323.1 1199.9L363.3 1278.7L355.7 1265.4L355.9 1265.9L371.3 1291.8L333.3 1221.7L353.8 1262.0L324.5 1203.0L344.2 1243.9L331.1 1217.2L338.6 1232.6L354.2 1262.7L312.2 1175.6L400.4 1331.3L307.8 1165.5L302.1 1152.4L374.1 1296.2L363.7 1279.4L359.3 1271.8L360.0 1273.1L341.3 1238.1L315.3 1182.5L345.2 1245.7L323.1 1199.9L373.4 1295.1L340.3 1236.0L320.5 1194.1L336.2 1227.8L358.9 1271.2L330.1 1215.1L323.0 1199.6L355.6 1265.4L356.3 1266.5L334.3 1223.8L335.9 1227.2L357.7 1269.0L307.8 1165.4L309.6 1169.6L330.9 1216.7L346.7 1248.7L363.1 1278.4L398.7 1329.4L380.7 1306.0L350.7 1256.3L355.6 1265.2L326.6 1207.5L356.8 1267.4L349.3 1253.6L368.3 1286.9L334.3 1223.8L375.4 1298.1L406.5 1338.1L357.7 1269.0L373.6 1295.4L382.9 1309.1L350.7 1256.3L370.1 1289.9L364.3 1280.5L367.5 1285.7L341.9 1239.3L366.5 1284.1L381.4 1306.9L410.6 1342.4L396.4 1326.7L433.0 1362.1L345.7 1246.8L395.6 1325.7L375.5 1298.3L436.5 1364.7L346.9 1249.0L346.5 1248.4L354.4 1263.1L309.1 1168.5L357.8 1269.2L351.4 1257.5L379.3 1303.9L385.7 1312.9L432.5 1361.8L405.2 1336.7L359.9 1272.8L350.8 1256.5L393.2 1322.7L339.3 1234.1L434.7 1363.5L415.7 1347.4L366.7 1284.4L329.9 1214.6L422.8 1353.8L379.2 1303.7L420.5 1351.8L335.9 1227.1L366.4 1283.9L385.2 1312.2L387.1 1314.7L372.7 1294.0L405.6 1337.1L355.3 1264.8L383.8 1310.3L392.3 1321.5L404.7 1336.2L411.3 1343.1L356.6 1267.2L344.9 1245.2L430.1 1359.9L402.3 1333.5L370.4 1290.3L440.2 1367.3L397.6 1328.0L430.2 1360.0L397.3 1327.7L457.9 1378.1L449.3 1373.2L389.6 1318.1L426.9 1357.4L417.7 1349.3L440.1 1367.3L370.5 1290.5L420.7 1352.1L432.6 1361.8L348.4 1252.0L366.3 1283.8L341.2 1237.8L395.0 1324.9L425.3 1356.0L449.5 1373.4L407.2 1338.8L454.5 1376.3L364.6 1280.9L355.5 1265.1L405.7 1337.2L419.5 1350.9L407.6 1339.2L346.9 1249.2L407.1 1338.7L371.1 1291.5L431.1 1360.7L422.6 1353.7L383.9 1310.4L397.3 1327.7L381.5 1307.0L412.1 1343.9L443.3 1369.4L385.5 1312.6L430.9 1360.6L400.4 1331.3L393.1 1322.6L414.4 1346.1L387.0 1314.7L402.1 1333.3L383.3 1309.6L479.1 1387.8L421.6 1352.9L400.1 1331.0L428.2 1358.4L419.0 1350.5L416.3 1348.0L442.1 1368.6L447.0 1371.8L408.8 1340.6L408.1 1339.8L417.7 1349.3L357.4 1268.4L381.6 1307.2L468.9 1383.5L477.9 1387.3L421.5 1352.8L447.0 1371.8L439.6 1366.9L523.5 1400.3L465.1 1381.8L428.2 1358.4L403.9 1335.3L384.9 1311.8L440.0 1367.2L411.7 1343.5L392.3 1321.5L416.2 1347.9L403.7 1335.1L487.6 1390.9L464.0 1381.2L437.8 1365.7L483.2 1389.4L441.6 1368.3L413.9 1345.7L486.3 1390.5L457.3 1377.8L410.5 1342.2L436.5 1364.8L416.5 1348.2L401.9 1333.0L471.9 1384.9L502.1 1395.4L403.2 1334.5L462.8 1380.6L426.9 1357.3L432.4 1361.7L429.9 1359.7L422.3 1353.4L450.4 1373.9L424.5 1355.3L458.2 1378.3L449.2 1373.2L444.1 1370.0L424.6 1355.4L435.2 1363.8L475.8 1386.5L468.8 1383.5L424.9 1355.7L457.9 1378.1L478.1 1387.4L405.9 1337.5L473.1 1385.4L437.4 1365.4L475.1 1386.2L435.6 1364.1L404.8 1336.3L410.8 1342.5L461.8 1380.1L468.8 1383.5L434.3 1363.2L481.4 1388.7L412.8 1344.5L461.4 1379.9L427.5 1357.8L444.9 1370.5L466.6 1382.5L439.9 1367.1L454.8 1376.4L497.2 1394.0L450.2 1373.8L493.3 1392.8L434.8 1363.5L485.3 1390.1L513.3 1398.2L396.2 1326.4L447.2 1371.9L489.1 1391.4L466.3 1382.3L484.2 1389.7L455.4 1376.8L476.8 1386.9L470.1 1384.1L510.5 1397.5L483.7 1389.5L486.8 1390.6L464.8 1381.6L463.1 1380.8L465.4 1381.9L490.9 1392.0L466.9 1382.6L488.9 1391.4L543.3 1403.6L507.6 1396.8L472.2 1385.0L518.8 1399.4L471.0 1384.4L422.5 1353.6L454.1 1376.0L428.8 1358.8L475.1 1386.2L486.8 1390.6L537.3 1402.7L497.3 1394.0L481.5 1388.7L513.6 1398.2L422.7 1353.8L496.9 1393.9L513.6 1398.2L446.6 1371.5L526.1 1400.8L502.4 1395.4L480.4 1388.3L512.5 1398.0L562.4 1405.9L500.1 1394.8L502.7 1395.5L482.1 1388.9L470.9 1384.4L522.1 1400.0L471.9 1384.9L500.4 1394.9L484.5 1389.8L513.9 1398.3L510.1 1397.4L531.9 1401.8L486.0 1390.3L493.8 1392.9L473.1 1385.4L489.7 1391.6L515.1 1398.6L527.1 1401.0L477.2 1387.1L531.7 1401.8L546.9 1404.1L519.2 1399.4L563.8 1406.1L484.6 1389.9L471.1 1384.5L455.6 1376.9L554.7 1405.1L530.0 1401.5L509.3 1397.2L520.0 1399.6L478.3 1387.5L586.3 1408.0L517.2 1399.0L517.2 1399.0L536.4 1402.6L529.6 1401.4L522.5 1400.1L492.6 1392.6L531.1 1401.7L574.2 1407.1L558.6 1405.5L566.7 1406.4L504.0 1395.9L490.2 1391.8L516.8 1398.9L522.9 1400.2L554.7 1405.1L471.5 1384.7L569.0 1406.6L518.8 1399.4L511.3 1397.7L494.3 1393.1L475.6 1386.4L550.8 1404.6L528.8 1401.3L488.4 1391.2L488.8 1391.3L518.3 1399.3L579.2 1407.5L521.8 1400.0L485.0 1390.0L523.4 1400.3L523.2 1400.3L450.9 1374.2L531.0 1401.7L526.3 1400.8L554.8 1405.1L590.1 1408.3L568.9 1406.6L527.5 1401.1L502.9 1395.6L614.3 1409.6L539.2 1403.0L538.5 1402.9L537.9 1402.8L545.2 1403.9L535.5 1402.4L523.2 1400.3L524.6 1400.5L540.7 1403.2L525.9 1400.8L521.4 1399.9L546.7 1404.1L536.4 1402.6L589.9 1408.3L465.5 1382.0L578.7 1407.4L584.0 1407.8L484.7 1389.9L537.4 1402.7L537.1 1402.7L506.5 1396.5L526.1 1400.8L516.7 1398.9L603.4 1409.1L579.4 1407.5L590.1 1408.3L574.2 1407.1L519.1 1399.4L537.9 1402.8L569.0 1406.6L518.1 1399.2L577.0 1407.3L548.9 1404.4L545.4 1403.9L578.7 1407.4L571.3 1406.8L547.7 1404.2L594.0 1408.5L527.2 1401.0L578.9 1407.5L578.8 1407.4L552.2 1404.8L571.9 1406.9L525.1 1400.6L591.1 1408.3L558.4 1405.5L548.8 1404.4L596.7 1408.7L544.6 1403.8L524.0 1400.4L520.1 1399.6L585.8 1408.0L529.6 1401.5L621.6 1409.9L506.7 1396.6L621.0 1409.9L576.9 1407.3L568.3 1406.5L555.4 1405.2L584.4 1407.9L571.8 1406.9L606.8 1409.2L577.6 1407.4L579.3 1407.5L564.4 1406.2L574.3 1407.1L585.8 1408.0L525.7 1400.7L537.2 1402.7L600.8 1408.9L584.1 1407.9L574.1 1407.1L580.8 1407.6L591.3 1408.3L565.2 1406.2L558.6 1405.5L588.5 1408.2L553.8 1405.0L596.1 1408.6L533.2 1402.1L616.0 1409.7L599.8 1408.9L593.9 1408.5L616.4 1409.7L637.5 1410.5L618.6 1409.8L533.3 1402.1L550.7 1404.6L571.0 1406.8L591.2 1408.3L606.6 1409.2L569.8 1406.7L597.9 1408.8L570.1 1406.7L575.1 1407.1L551.7 1404.7L566.9 1406.4L554.6 1405.1L566.5 1406.4L628.2 1410.1L568.5 1406.6L676.9 1411.3L613.1 1409.5L604.4 1409.1L573.7 1407.0L621.1 1409.9L583.4 1407.8L605.0 1409.1L678.9 1411.4L599.6 1408.9L637.7 1410.5L582.5 1407.7L603.2 1409.1L658.2 1411.0L586.6 1408.0L660.6 1411.0L628.0 1410.1L590.4 1408.3L626.9 1410.1L637.8 1410.5L627.8 1410.1L562.5 1406.0L588.4 1408.2L603.5 1409.1L609.3 1409.4L630.8 1410.2L618.1 1409.8L573.2 1407.0L625.4 1410.0L632.9 1410.3L632.0 1410.3L648.3 1410.8L641.4 1410.6L630.8 1410.2L615.4 1409.6L568.2 1406.5L631.7 1410.3L625.6 1410.1L628.1 1410.1L582.1 1407.7L588.6 1408.2L653.4 1410.9L621.2 1409.9L643.5 1410.6L624.4 1410.0L625.1 1410.0L653.0 1410.9L609.9 1409.4L628.9 1410.2L612.7 1409.5L614.1 1409.6L618.5 1409.8L635.1 1410.4L614.6 1409.6L667.4 1411.2L603.3 1409.1L625.2 1410.0L618.2 1409.8L675.5 1411.3L638.5 1410.5L664.3 1411.1L589.1 1408.2L642.4 1410.6L661.8 1411.1L638.1 1410.5L668.3 1411.2L621.3 1409.9L679.8 1411.4L707.2 1411.7L627.7 1410.1L625.8 1410.1L683.6 1411.4L688.0 1411.5L625.3 1410.0L629.0 1410.2L633.8 1410.3L602.4 1409.0L615.8 1409.7L613.8 1409.6L621.6 1409.9L644.2 1410.6L652.9 1410.9L693.1 1411.6L617.0 1409.7L677.3 1411.3L641.8 1410.6L647.4 1410.7L669.8 1411.2L616.3 1409.7L662.2 1411.1L656.3 1410.9L666.7 1411.2L661.2 1411.0L727.0 1411.9L634.5 1410.4L638.3 1410.5L636.1 1410.4L638.8 1410.5L636.9 1410.4L692.5 1411.5L700.0 1411.6L640.7 1410.5L633.5 1410.3L673.3 1411.3L643.1 1410.6L679.4 1411.4L667.0 1411.2L615.9 1409.7L708.7 1411.7L716.8 1411.8L644.9 1410.7L652.3 1410.8L673.1 1411.3L675.2 1411.3L685.5 1411.5L726.8 1411.9L661.6 1411.1L643.5 1410.6L626.6 1410.1L646.8 1410.7L668.3 1411.2L723.9 1411.8L655.0 1410.9L677.9 1411.3L671.3 1411.2L708.1 1411.7L749.0 1412.0L657.6 1411.0L659.4 1411.0L706.2 1411.7L695.9 1411.6L731.5 1411.9L694.1 1411.6L666.4 1411.1L695.5 1411.6L711.7 1411.7L703.7 1411.7L694.8 1411.6L712.3 1411.8L716.0 1411.8L723.0 1411.8L701.5 1411.7L677.6 1411.3L687.6 1411.5L720.1 1411.8L659.8 1411.0L696.1 1411.6L673.8 1411.3L687.1 1411.5L725.3 1411.9L693.2 1411.6L689.4 1411.5L647.7 1410.7L711.7 1411.7L709.2 1411.7L755.5 1412.0L681.8 1411.4L698.2 1411.6L699.7 1411.6L740.3 1412.0L690.6 1411.5L702.4 1411.7L712.9 1411.8L700.9 1411.6L682.4 1411.4L702.3 1411.7L729.4 1411.9L666.8 1411.2L702.3 1411.7L677.8 1411.3L735.4 1411.9L654.2 1410.9L683.9 1411.4L712.6 1411.8L749.0 1412.0L700.5 1411.6L686.4 1411.5L760.3 1412.0L660.7 1411.0L638.7 1410.5L718.7 1411.8L691.0 1411.5L676.0 1411.3L728.6 1411.9L715.2 1411.8L691.5 1411.5L670.6 1411.2L735.9 1411.9L729.9 1411.9L707.9 1411.7L767.1 1412.1L679.9 1411.4L666.8 1411.2L692.5 1411.5L712.5 1411.8L721.8 1411.8L707.9 1411.7L726.3 1411.9L678.7 1411.4L760.4 1412.0L715.1 1411.8L751.7 1412.0L729.0 1411.9L733.1 1411.9L737.1 1411.9L734.0 1411.9L740.5 1412.0L761.7 1412.1L728.3 1411.9L744.3 1412.0L720.9 1411.8L767.5 1412.1L704.4 1411.7L779.5 1412.1L724.8 1411.9L683.5 1411.4L731.0 1411.9L707.3 1411.7L753.7 1412.0L709.3 1411.7L716.2 1411.8L673.3 1411.3L717.2 1411.8L658.5 1411.0L684.3 1411.4L755.5 1412.0L756.8 1412.0L746.6 1412.0L705.3 1411.7L733.6 1411.9L735.5 1411.9L701.4 1411.6L782.0 1412.1L763.8 1412.1L731.4 1411.9L739.4 1411.9L745.5 1412.0L678.4 1411.4L733.0 1411.9L720.5 1411.8L711.5 1411.7L733.8 1411.9L796.9 1412.2L762.7 1412.1L726.8 1411.9L761.9 1412.1" fill="none" stroke="#008000" stroke-width="2.2" stroke-linejoin="round" stroke-linecap="square"/>
<path d="M157.9 1407.5L139.4 1408.7L163.6 1407.0L190.5 1404.1L138.3 1408.8L138.9 1408.8L194.0 1403.6L170.2 1406.4L133.6 1409.1L164.7 1406.9L135.0 1409.0L135.5 1409.0L157.4 1407.5L93.2 1410.6L99.5 1410.5L135.0 1409.0L122.1 1409.6L162.6 1407.1L126.4 1409.4L111.9 1410.0L199.1 1402.8L148.8 1408.2L158.2 1407.5L113.9 1410.0L141.0 1408.6L161.3 1407.2L124.0 1409.5L170.5 1406.4L141.7 1408.6L151.6 1408.0L142.9 1408.5L217.3 1399.6L161.8 1407.2L131.0 1409.2L188.1 1404.4L127.3 1409.4L170.9 1406.3L106.2 1410.2L125.8 1409.5L172.3 1406.2L189.2 1404.2L172.8 1406.1L164.7 1406.9L159.8 1407.3L124.9 1409.5L148.4 1408.2L156.8 1407.6L203.0 1402.2L182.2 1405.1L119.4 1409.7L182.8 1405.1L162.1 1407.1L153.9 1407.8L193.2 1403.7L206.5 1401.6L204.1 1402.0L151.4 1408.0L167.9 1406.6L187.8 1404.4L207.8 1401.4L164.6 1406.9L174.1 1406.0L147.0 1408.3L144.9 1408.4L205.9 1401.7L222.9 1398.4L180.5 1405.3L213.5 1400.3L194.8 1403.5L165.1 1406.9L196.0 1403.3L232.0 1396.2L185.2 1404.8L234.0 1395.6L108.7 1410.2L212.8 1400.5L191.3 1404.0L180.3 1405.3L192.7 1403.8L130.7 1409.2L184.5 1404.8L202.5 1402.3L236.8 1394.9L177.3 1405.7L169.2 1406.5L179.0 1405.5L222.3 1398.5L205.2 1401.8L180.0 1405.4L212.0 1400.6L200.0 1402.7L226.9 1397.4L177.2 1405.7L189.1 1404.3L187.7 1404.4L156.1 1407.6L209.7 1401.1L209.2 1401.1L202.1 1402.4L195.5 1403.4L160.6 1407.3L191.1 1404.0L194.0 1403.6L180.8 1405.3L200.7 1402.6L218.3 1399.4L263.5 1385.6L212.6 1400.5L215.7 1399.9L206.3 1401.7L151.4 1408.0L209.0 1401.2L212.2 1400.6L285.1 1374.8L205.8 1401.7L221.3 1398.7L211.7 1400.7L178.2 1405.6L248.4 1391.3L237.2 1394.7L239.0 1394.2L188.4 1404.3L258.6 1387.6L174.8 1405.9L235.3 1395.3L284.1 1375.4L189.0 1404.3L202.4 1402.3L223.0 1398.3L205.5 1401.8L174.6 1406.0L223.9 1398.1L190.5 1404.1L237.3 1394.7L196.0 1403.3L270.9 1382.3L201.3 1402.5L215.7 1399.9L250.5 1390.6L189.6 1404.2L234.1 1395.6L267.2 1384.0L180.1 1405.4L234.6 1395.5L237.5 1394.7L253.8 1389.4L193.6 1403.6L191.7 1403.9L247.8 1391.5L241.6 1393.5L240.8 1393.7L244.3 1392.6L214.0 1400.2L242.1 1393.3L244.5 1392.6L214.8 1400.1L293.0 1370.0L251.7 1390.1L202.2 1402.3L258.4 1387.7L210.0 1401.0L263.6 1385.6L275.4 1380.1L216.4 1399.8L270.7 1382.4L254.7 1389.1L267.6 1383.8L300.6 1364.8L236.7 1394.9L222.0 1398.6L218.6 1399.3L221.4 1398.7L244.2 1392.7L257.4 1388.1L256.0 1388.6L273.2 1381.2L249.3 1391.0L293.3 1369.8L242.2 1393.3L332.6 1336.0L270.2 1382.6L226.2 1397.6L220.3 1398.9L267.7 1383.8L247.0 1391.8L275.8 1379.9L269.2 1383.1L253.4 1389.6L230.7 1396.5L211.2 1400.8L243.9 1392.7L283.7 1375.6L265.0 1385.0L221.7 1398.6L265.0 1385.0L272.0 1381.8L234.4 1395.5L266.2 1384.4L263.9 1385.4L228.4 1397.1L274.1 1380.7L280.9 1377.2L297.2 1367.2L296.9 1367.4L224.3 1398.0L238.2 1394.5L282.5 1376.3L283.1 1376.0L283.7 1375.6L384.7 1259.5L286.6 1374.0L304.2 1362.1L299.3 1365.7L290.8 1371.4L262.3 1386.1L295.3 1368.5L249.8 1390.8L266.5 1384.3L259.6 1387.2L277.3 1379.1L345.1 1321.2L219.9 1399.0L297.3 1367.1L228.7 1397.0L263.6 1385.5L311.2 1356.5L281.0 1377.2L247.2 1391.7L258.7 1387.5L301.3 1364.3L259.5 1387.2L288.6 1372.8L284.0 1375.5L263.7 1385.5L348.4 1317.0L303.5 1362.6L224.1 1398.1L291.3 1371.1L266.4 1384.4L312.5 1355.4L263.6 1385.5L284.6 1375.1L303.9 1362.4L315.3 1353.0L253.8 1389.4L280.4 1377.5L276.8 1379.4L272.0 1381.8L345.4 1320.8L305.1 1361.4L255.6 1388.8L321.7 1347.1L358.6 1302.8L326.4 1342.5L250.2 1390.7L281.9 1376.6L335.2 1333.0L276.4 1379.6L311.7 1356.1L322.2 1346.6L271.6 1381.9L298.3 1366.4L203.2 1402.2L270.5 1382.5L294.3 1369.1L265.0 1385.0L352.2 1311.8L260.7 1386.8L291.1 1371.2L308.9 1358.4L348.9 1316.3L262.9 1385.8L341.7 1325.4L307.7 1359.4L278.4 1378.5L322.5 1346.4L315.1 1353.1L291.7 1370.8L312.5 1355.5L299.4 1365.7L315.0 1353.3L332.1 1336.5L360.5 1300.0L276.1 1379.7L378.2 1271.3L255.8 1388.6L310.6 1357.0L333.5 1335.0L324.8 1344.1L298.3 1366.4L311.3 1356.4L303.4 1362.7L301.1 1364.4L345.0 1321.4L330.7 1338.0L299.8 1365.4L348.3 1317.1L331.1 1337.6L346.9 1318.9L342.0 1325.1L298.7 1366.1L307.4 1359.6L347.3 1318.4L343.8 1322.9L325.4 1343.5L330.2 1338.6L365.7 1292.0L310.0 1357.5L344.9 1321.5L323.0 1345.9L323.1 1345.8L363.3 1295.7L355.7 1307.0L355.9 1306.6L371.3 1282.9L333.3 1335.2L353.8 1309.7L324.5 1344.4L344.2 1322.3L331.1 1337.5L338.6 1329.2L354.2 1309.1L312.2 1355.6L400.4 1228.8L307.8 1359.3L302.1 1363.6L374.1 1278.2L363.7 1295.1L359.3 1301.8L360.0 1300.7L341.3 1325.9L315.3 1353.0L345.2 1321.1L323.1 1345.8L373.4 1279.4L340.3 1327.2L320.5 1348.3L336.2 1331.9L358.9 1302.3L330.1 1338.6L323.0 1345.9L355.6 1307.0L356.3 1306.1L334.3 1334.1L335.9 1332.2L357.7 1304.1L307.8 1359.3L309.6 1357.9L330.9 1337.8L346.7 1319.1L363.1 1296.0L398.7 1232.3L380.7 1266.7L350.7 1313.8L355.6 1307.1L326.6 1342.3L356.8 1305.4L349.3 1315.8L368.3 1287.9L334.3 1334.1L375.4 1276.1L406.5 1216.2L357.7 1304.1L373.6 1279.0L382.9 1262.8L350.7 1313.9L370.1 1284.9L364.3 1294.1L367.5 1289.1L341.9 1325.2L366.5 1290.7L381.4 1265.6L410.6 1207.3L396.4 1236.9L433.0 1157.1L345.7 1320.4L395.6 1238.5L375.5 1275.9L436.5 1149.0L346.9 1318.9L346.5 1319.4L354.4 1308.8L309.1 1358.3L357.8 1303.9L351.4 1313.0L379.3 1269.2L385.7 1257.7L432.5 1158.3L405.2 1218.8L359.9 1300.9L350.8 1313.7L393.2 1243.3L339.3 1328.3L434.7 1153.0L415.7 1196.2L366.7 1290.4L329.9 1338.9L422.8 1180.4L379.2 1269.5L420.5 1185.6L335.9 1332.3L366.4 1290.9L385.2 1258.6L387.1 1255.1L372.7 1280.6L405.6 1218.0L355.3 1307.5L383.8 1261.2L392.3 1245.1L404.7 1219.8L411.3 1205.9L356.6 1305.6L344.9 1321.4L430.1 1163.7L402.3 1225.0L370.4 1284.5L440.2 1140.4L397.6 1234.6L430.2 1163.5L397.3 1235.1L457.9 1099.2L449.3 1119.1L389.6 1250.3L426.9 1171.0L417.7 1191.7L440.1 1140.6L370.5 1284.3L420.7 1185.0L432.6 1158.0L348.4 1316.9L366.3 1291.0L341.2 1326.1L395.0 1239.7L425.3 1174.7L449.5 1118.6L407.2 1214.7L454.5 1107.0L364.6 1293.7L355.5 1307.3L405.7 1217.9L419.5 1187.8L407.6 1213.9L346.9 1318.8L407.1 1214.9L371.1 1283.3L431.1 1161.4L422.6 1180.8L383.9 1261.0L397.3 1235.2L381.5 1265.3L412.1 1204.2L443.3 1133.1L385.5 1258.0L430.9 1161.8L400.4 1228.8L393.1 1243.5L414.4 1199.2L387.0 1255.2L402.1 1225.3L383.3 1262.0L479.1 1052.0L421.6 1182.9L400.1 1229.4L428.2 1168.0L419.0 1188.9L416.3 1194.8L442.1 1135.9L447.0 1124.5L408.8 1211.1L408.1 1212.8L417.7 1191.7L357.4 1304.6L381.6 1265.1L468.9 1074.2L477.9 1054.5L421.5 1183.2L447.0 1124.5L439.6 1141.7L523.5 969.5L465.1 1082.8L428.2 1168.1L403.9 1221.6L384.9 1259.1L440.0 1140.9L411.7 1205.0L392.3 1245.2L416.2 1195.1L403.7 1222.0L487.6 1034.2L464.0 1085.4L437.8 1145.9L483.2 1043.3L441.6 1137.1L413.9 1200.1L486.3 1036.9L457.3 1100.7L410.5 1207.6L436.5 1148.8L416.5 1194.4L401.9 1225.8L471.9 1067.5L502.1 1005.8L403.2 1223.1L462.8 1088.0L426.9 1171.0L432.4 1158.3L429.9 1164.2L422.3 1181.5L450.4 1116.7L424.5 1176.5L458.2 1098.5L449.2 1119.4L444.1 1131.2L424.6 1176.3L435.2 1152.0L475.8 1059.0L468.8 1074.5L424.9 1175.6L457.9 1099.2L478.1 1054.1L405.9 1217.4L473.1 1065.1L437.4 1146.8L475.1 1060.6L435.6 1151.1L404.8 1219.6L410.8 1207.0L461.8 1090.3L468.8 1074.6L434.3 1153.9L481.4 1047.2L412.8 1202.7L461.4 1091.3L427.5 1169.6L444.9 1129.3L466.6 1079.5L439.9 1141.1L454.8 1106.4L497.2 1015.0L450.2 1117.0L493.3 1022.7L434.8 1152.9L485.3 1038.9L513.3 985.9L396.2 1237.3L447.2 1124.0L489.1 1031.0L466.3 1080.2L484.2 1041.3L455.4 1104.9L476.8 1056.9L470.1 1071.6L510.5 990.7L483.7 1042.3L486.8 1035.9L464.8 1083.5L463.1 1087.3L465.4 1082.2L490.9 1027.5L466.9 1078.7L488.9 1031.5L543.3 941.7L507.6 995.8L472.2 1066.9L518.8 976.9L471.0 1069.7L422.5 1181.0L454.1 1108.0L428.8 1166.8L475.1 1060.7L486.8 1035.8L537.3 949.5L497.3 1015.0L481.5 1047.0L513.6 985.4L422.7 1180.5L496.9 1015.6L513.6 985.3L446.6 1125.5L526.1 965.5L502.4 1005.2L480.4 1049.3L512.5 987.3L562.4 920.2L500.1 1009.5L502.7 1004.7L482.1 1045.7L470.9 1069.8L522.1 971.6L471.9 1067.6L500.4 1009.0L484.5 1040.5L513.9 984.9L510.1 991.4L531.9 956.9L486.0 1037.6L493.8 1021.8L473.1 1065.1L489.7 1029.8L515.1 983.0L527.1 964.0L477.2 1056.1L531.7 957.3L546.9 937.3L519.2 976.2L563.8 918.8L484.6 1040.3L471.1 1069.4L455.6 1104.5L554.7 928.2L530.0 959.6L509.3 992.9L520.0 975.0L478.3 1053.7L586.3 899.6L517.2 979.4L517.2 979.4L536.4 950.7L529.6 960.2L522.5 971.0L492.6 1024.2L531.1 958.0L574.2 909.3L558.6 924.0L566.7 916.0L504.0 1002.4L490.2 1028.9L516.8 980.1L522.9 970.4L554.7 928.3L471.5 1068.6L569.0 913.9L518.8 976.8L511.3 989.3L494.3 1020.7L475.6 1059.5L550.8 932.7L528.8 961.4L488.4 1032.6L488.8 1031.7L518.3 977.6L579.2 905.1L521.8 972.0L485.0 1039.6L523.4 969.5L523.2 969.8L450.9 1115.5L531.0 958.2L526.3 965.2L554.8 928.2L590.1 897.0L568.9 913.9L527.5 963.3L502.9 1004.3L614.3 882.8L539.2 946.9L538.5 947.9L537.9 948.7L545.2 939.3L535.5 951.9L523.2 969.9L524.6 967.7L540.7 945.0L525.9 965.7L521.4 972.7L546.7 937.5L536.4 950.7L589.9 897.1L465.5 1081.9L578.7 905.5L584.0 901.4L484.7 1040.2L537.4 949.4L537.1 949.7L506.5 997.7L526.1 965.5L516.7 980.3L603.4 888.6L579.4 904.9L590.1 896.9L574.2 909.2L519.1 976.3L537.9 948.6L569.0 913.8L518.1 977.9L577.0 906.9L548.9 934.9L545.4 939.0L578.7 905.5L571.3 911.8L547.7 936.3L594.0 894.3L527.2 963.8L578.9 905.4L578.8 905.4L552.2 931.0L571.9 911.2L525.1 967.0L591.1 896.2L558.4 924.3L548.8 935.0L596.7 892.6L544.6 940.1L524.0 968.7L520.1 974.7L585.8 900.0L529.6 960.2L621.6 879.4L506.7 997.4L621.0 879.7L576.9 907.0L568.3 914.6L555.4 927.5L584.4 901.1L571.8 911.3L606.8 886.7L577.6 906.4L579.3 905.0L564.4 918.2L574.3 909.2L585.8 900.0L525.7 966.0L537.2 949.6L600.8 890.1L584.1 901.3L574.1 909.4L580.8 903.9L591.3 896.2L565.2 917.5L558.6 924.1L588.5 898.1L553.8 929.3L596.1 893.0L533.2 955.1L616.0 882.0L599.8 890.7L593.9 894.4L616.4 881.8L637.5 873.2L618.6 880.8L533.3 955.0L550.7 932.7L571.0 912.0L591.2 896.2L606.6 886.8L569.8 913.1L597.9 891.9L570.1 912.8L575.1 908.5L551.7 931.6L566.9 915.8L554.6 928.4L566.5 916.2L628.2 876.7L568.5 914.3L676.9 863.1L613.1 883.4L604.4 888.0L573.7 909.7L621.1 879.6L583.4 901.8L605.0 887.7L678.9 862.7L599.6 890.8L637.7 873.2L582.5 902.5L603.2 888.7L658.2 867.1L586.6 899.4L660.6 866.5L628.0 876.7L590.4 896.8L626.9 877.2L637.8 873.1L627.8 876.8L562.5 920.1L588.4 898.1L603.5 888.5L609.3 885.3L630.8 875.6L618.1 881.0L573.2 910.1L625.4 877.8L632.9 874.9L632.0 875.2L648.3 869.8L641.4 871.9L630.8 875.7L615.4 882.2L568.2 914.6L631.7 875.3L625.6 877.7L628.1 876.7L582.1 902.8L588.6 898.0L653.4 868.3L621.2 879.6L643.5 871.3L624.4 878.2L625.1 877.9L653.0 868.5L609.9 885.0L628.9 876.4L612.7 883.6L614.1 882.9L618.5 880.8L635.1 874.1L614.6 882.6L667.4 865.0L603.3 888.6L625.2 877.9L618.2 881.0L675.5 863.3L638.5 872.9L664.3 865.7L589.1 897.6L642.4 871.6L661.8 866.2L638.1 873.0L668.3 864.8L621.3 879.6L679.8 862.5L707.2 858.6L627.7 876.9L625.8 877.6L683.6 861.9L688.0 861.2L625.3 877.8L629.0 876.3L633.8 874.5L602.4 889.1L615.8 882.1L613.8 883.0L621.6 879.4L644.2 871.0L652.9 868.5L693.1 860.4L617.0 881.5L677.3 863.0L641.8 871.8L647.4 870.1L669.8 864.5L616.3 881.8L662.2 866.2L656.3 867.6L666.7 865.1L661.2 866.4L727.0 856.7L634.5 874.3L638.3 872.9L636.1 873.7L638.8 872.8L636.9 873.4L692.5 860.5L700.0 859.5L640.7 872.1L633.5 874.6L673.3 863.8L643.1 871.4L679.4 862.6L667.0 865.1L615.9 882.0L708.7 858.4L716.8 857.6L644.9 870.8L652.3 868.7L673.1 863.8L675.2 863.4L685.5 861.6L726.8 856.7L661.6 866.3L643.5 871.2L626.6 877.3L646.8 870.2L668.3 864.8L723.9 856.9L655.0 867.9L677.9 862.9L671.3 864.2L708.1 858.5L749.0 855.2L657.6 867.3L659.4 866.8L706.2 858.7L695.9 860.0L731.5 856.3L694.1 860.3L666.4 865.2L695.5 860.1L711.7 858.1L703.7 859.0L694.8 860.2L712.3 858.1L716.0 857.7L723.0 857.0L701.5 859.3L677.6 862.9L687.6 861.2L720.1 857.3L659.8 866.7L696.1 860.0L673.8 863.7L687.1 861.3L725.3 856.8L693.2 860.4L689.4 861.0L647.7 870.0L711.7 858.1L709.2 858.4L755.5 854.8L681.8 862.2L698.2 859.7L699.7 859.5L740.3 855.7L690.6 860.8L702.4 859.2L712.9 858.0L700.9 859.4L682.4 862.1L702.3 859.2L729.4 856.5L666.8 865.1L702.3 859.2L677.8 862.9L735.4 856.0L654.2 868.1L683.9 861.9L712.6 858.0L749.0 855.2L700.5 859.4L686.4 861.4L760.3 854.6L660.7 866.5L638.7 872.8L718.7 857.4L691.0 860.7L676.0 863.2L728.6 856.6L715.2 857.8L691.5 860.7L670.6 864.3L735.9 856.0L729.9 856.5L707.9 858.5L767.1 854.3L679.9 862.5L666.8 865.1L692.5 860.5L712.5 858.0L721.8 857.1L707.9 858.5L726.3 856.7L678.7 862.7L760.4 854.6L715.1 857.8L751.7 855.0L729.0 856.5L733.1 856.2L737.1 855.9L734.0 856.1L740.5 855.7L761.7 854.5L728.3 856.6L744.3 855.4L720.9 857.2L767.5 854.2L704.4 858.9L779.5 853.8L724.8 856.9L683.5 861.9L731.0 856.4L707.3 858.6L753.7 854.9L709.3 858.4L716.2 857.7L673.3 863.8L717.2 857.6L658.5 867.1L684.3 861.8L755.5 854.8L756.8 854.7L746.6 855.3L705.3 858.8L733.6 856.2L735.5 856.0L701.4 859.3L782.0 853.7L763.8 854.4L731.4 856.3L739.4 855.8L745.5 855.4L678.4 862.8L733.0 856.2L720.5 857.3L711.5 858.1L733.8 856.2L796.9 853.2L762.7 854.4L726.8 856.7L761.9 854.5" fill="none" stroke="#ffa500" stroke-width="2.2" stroke-linejoin="round" stroke-linecap="square"/>
<path d="M157.9 1411.9L139.4 1412.0L163.6 1411.8L190.5 1411.6L138.3 1412.0L138.9 1412.0L194.0 1411.6L170.2 1411.8L133.6 1412.0L164.7 1411.8L135.0 1412.0L135.5 1412.0L157.4 1411.9L93.2 1412.1L99.5 1412.1L135.0 1412.0L122.1 1412.1L162.6 1411.9L126.4 1412.0L111.9 1412.1L199.1 1411.5L148.8 1411.9L158.2 1411.9L113.9 1412.1L141.0 1412.0L161.3 1411.9L124.0 1412.1L170.5 1411.8L141.7 1412.0L151.6 1411.9L142.9 1412.0L217.3 1411.2L161.8 1411.9L131.0 1412.0L188.1 1411.6L127.3 1412.0L170.9 1411.8L106.2 1412.1L125.8 1412.1L172.3 1411.8L189.2 1411.6L172.8 1411.8L164.7 1411.8L159.8 1411.9L124.9 1412.1L148.4 1411.9L156.8 1411.9L203.0 1411.4L182.2 1411.7L119.4 1412.1L182.8 1411.7L162.1 1411.9L153.9 1411.9L193.2 1411.6L206.5 1411.4L204.1 1411.4L151.4 1411.9L167.9 1411.8L187.8 1411.6L207.8 1411.4L164.6 1411.8L174.1 1411.8L147.0 1412.0L144.9 1412.0L205.9 1411.4L222.9 1411.1L180.5 1411.7L213.5 1411.3L194.8 1411.6L165.1 1411.8L196.0 1411.5L232.0 1410.9L185.2 1411.7L234.0 1410.9L108.7 1412.1L212.8 1411.3L191.3 1411.6L180.3 1411.7L192.7 1411.6L130.7 1412.0L184.5 1411.7L202.5 1411.5L236.8 1410.8L177.3 1411.7L169.2 1411.8L179.0 1411.7L222.3 1411.1L205.2 1411.4L180.0 1411.7L212.0 1411.3L200.0 1411.5L226.9 1411.0L177.2 1411.7L189.1 1411.6L187.7 1411.6L156.1 1411.9L209.7 1411.3L209.2 1411.4L202.1 1411.5L195.5 1411.5L160.6 1411.9L191.1 1411.6L194.0 1411.6L180.8 1411.7L200.7 1411.5L218.3 1411.2L263.5 1410.0L212.6 1411.3L215.7 1411.2L206.3 1411.4L151.4 1411.9L209.0 1411.4L212.2 1411.3L285.1 1409.0L205.8 1411.4L221.3 1411.1L211.7 1411.3L178.2 1411.7L248.4 1410.5L237.2 1410.8L239.0 1410.8L188.4 1411.6L258.6 1410.2L174.8 1411.8L235.3 1410.8L284.1 1409.1L189.0 1411.6L202.4 1411.5L223.0 1411.1L205.5 1411.4L174.6 1411.8L223.9 1411.1L190.5 1411.6L237.3 1410.8L196.0 1411.5L270.9 1409.7L201.3 1411.5L215.7 1411.2L250.5 1410.4L189.6 1411.6L234.1 1410.9L267.2 1409.9L180.1 1411.7L234.6 1410.9L237.5 1410.8L253.8 1410.3L193.6 1411.6L191.7 1411.6L247.8 1410.5L241.6 1410.7L240.8 1410.7L244.3 1410.6L214.0 1411.3L242.1 1410.7L244.5 1410.6L214.8 1411.3L293.0 1408.6L251.7 1410.4L202.2 1411.5L258.4 1410.2L210.0 1411.3L263.6 1410.0L275.4 1409.5L216.4 1411.2L270.7 1409.7L254.7 1410.3L267.6 1409.8L300.6 1408.1L236.7 1410.8L222.0 1411.1L218.6 1411.2L221.4 1411.1L244.2 1410.6L257.4 1410.2L256.0 1410.3L273.2 1409.6L249.3 1410.5L293.3 1408.5L242.2 1410.7L332.6 1405.1L270.2 1409.7L226.2 1411.1L220.3 1411.2L267.7 1409.8L247.0 1410.5L275.8 1409.5L269.2 1409.8L253.4 1410.3L230.7 1411.0L211.2 1411.3L243.9 1410.6L283.7 1409.1L265.0 1409.9L221.7 1411.1L265.0 1409.9L272.0 1409.6L234.4 1410.9L266.2 1409.9L263.9 1410.0L228.4 1411.0L274.1 1409.6L280.9 1409.2L297.2 1408.3L296.9 1408.3L224.3 1411.1L238.2 1410.8L282.5 1409.1L283.1 1409.1L283.7 1409.1L384.7 1395.6L286.6 1408.9L304.2 1407.8L299.3 1408.1L290.8 1408.7L262.3 1410.0L295.3 1408.4L249.8 1410.5L266.5 1409.9L259.6 1410.1L277.3 1409.4L345.1 1403.5L219.9 1411.2L297.3 1408.3L228.7 1411.0L263.6 1410.0L311.2 1407.2L281.0 1409.2L247.2 1410.5L258.7 1410.2L301.3 1408.0L259.5 1410.1L288.6 1408.8L284.0 1409.1L263.7 1410.0L348.4 1403.0L303.5 1407.8L224.1 1411.1L291.3 1408.7L266.4 1409.9L312.5 1407.1L263.6 1410.0L284.6 1409.0L303.9 1407.8L315.3 1406.9L253.8 1410.3L280.4 1409.3L276.8 1409.4L272.0 1409.6L345.4 1403.5L305.1 1407.7L255.6 1410.3L321.7 1406.3L358.6 1401.3L326.4 1405.8L250.2 1410.4L281.9 1409.2L335.2 1404.8L276.4 1409.4L311.7 1407.2L322.2 1406.2L271.6 1409.7L298.3 1408.2L203.2 1411.4L270.5 1409.7L294.3 1408.5L265.0 1409.9L352.2 1402.4L260.7 1410.1L291.1 1408.7L308.9 1407.4L348.9 1402.9L262.9 1410.0L341.7 1404.0L307.7 1407.5L278.4 1409.4L322.5 1406.2L315.1 1406.9L291.7 1408.6L312.5 1407.1L299.4 1408.1L315.0 1406.9L332.1 1405.2L360.5 1401.0L276.1 1409.5L378.2 1397.2L255.8 1410.3L310.6 1407.3L333.5 1405.0L324.8 1406.0L298.3 1408.2L311.3 1407.2L303.4 1407.9L301.1 1408.0L345.0 1403.5L330.7 1405.3L299.8 1408.1L348.3 1403.0L331.1 1405.3L346.9 1403.2L342.0 1403.9L298.7 1408.2L307.4 1407.6L347.3 1403.2L343.8 1403.7L325.4 1405.9L330.2 1405.4L365.7 1400.0L310.0 1407.3L344.9 1403.5L323.0 1406.2L323.1 1406.2L363.3 1400.5L355.7 1401.8L355.9 1401.8L371.3 1398.8L333.3 1405.0L353.8 1402.2L324.5 1406.0L344.2 1403.6L331.1 1405.3L338.6 1404.4L354.2 1402.1L312.2 1407.2L400.4 1390.8L307.8 1407.5L302.1 1407.9L374.1 1398.2L363.7 1400.4L359.3 1401.2L360.0 1401.1L341.3 1404.0L315.3 1406.9L345.2 1403.5L323.1 1406.2L373.4 1398.3L340.3 1404.2L320.5 1406.4L336.2 1404.7L358.9 1401.3L330.1 1405.4L323.0 1406.2L355.6 1401.8L356.3 1401.7L334.3 1404.9L335.9 1404.7L357.7 1401.5L307.8 1407.5L309.6 1407.4L330.9 1405.3L346.7 1403.3L363.1 1400.5L398.7 1391.3L380.7 1396.6L350.7 1402.7L355.6 1401.9L326.6 1405.8L356.8 1401.6L349.3 1402.9L368.3 1399.5L334.3 1404.9L375.4 1397.9L406.5 1388.6L357.7 1401.5L373.6 1398.3L382.9 1396.0L350.7 1402.7L370.1 1399.1L364.3 1400.3L367.5 1399.6L341.9 1403.9L366.5 1399.8L381.4 1396.4L410.6 1387.0L396.4 1392.1L433.0 1376.3L345.7 1403.4L395.6 1392.3L375.5 1397.9L436.5 1374.3L346.9 1403.2L346.5 1403.3L354.4 1402.1L309.1 1407.4L357.8 1401.5L351.4 1402.5L379.3 1396.9L385.7 1395.3L432.5 1376.6L405.2 1389.0L359.9 1401.1L350.8 1402.6L393.2 1393.1L339.3 1404.3L434.7 1375.3L415.7 1384.8L366.7 1399.8L329.9 1405.4L422.8 1381.6L379.2 1397.0L420.5 1382.7L335.9 1404.7L366.4 1399.8L385.2 1395.4L387.1 1394.9L372.7 1398.5L405.6 1388.9L355.3 1401.9L383.8 1395.8L392.3 1393.4L404.7 1389.2L411.3 1386.7L356.6 1401.7L344.9 1403.5L430.1 1377.9L402.3 1390.1L370.4 1399.0L440.2 1372.1L397.6 1391.7L430.2 1377.8L397.3 1391.8L457.9 1359.6L449.3 1366.0L389.6 1394.2L426.9 1379.5L417.7 1383.9L440.1 1372.1L370.5 1399.0L420.7 1382.6L432.6 1376.5L348.4 1403.0L366.3 1399.9L341.2 1404.0L395.0 1392.5L425.3 1380.4L449.5 1365.8L407.2 1388.3L454.5 1362.2L364.6 1400.2L355.5 1401.9L405.7 1388.9L419.5 1383.1L407.6 1388.2L346.9 1403.2L407.1 1388.4L371.1 1398.9L431.1 1377.3L422.6 1381.7L383.9 1395.8L397.3 1391.8L381.5 1396.4L412.1 1386.4L443.3 1370.1L385.5 1395.3L430.9 1377.4L400.4 1390.8L393.1 1393.1L414.4 1385.4L387.0 1394.9L402.1 1390.2L383.3 1395.9L479.1 1340.2L421.6 1382.1L400.1 1390.9L428.2 1378.9L419.0 1383.4L416.3 1384.6L442.1 1370.9L447.0 1367.6L408.8 1387.7L408.1 1388.0L417.7 1383.9L357.4 1401.6L381.6 1396.4L468.9 1350.1L477.9 1341.4L421.5 1382.2L447.0 1367.6L439.6 1372.4L523.5 1280.1L465.1 1353.6L428.2 1378.9L403.9 1389.5L384.9 1395.5L440.0 1372.2L411.7 1386.5L392.3 1393.4L416.2 1384.6L403.7 1389.6L487.6 1330.8L464.0 1354.5L437.8 1373.5L483.2 1335.8L441.6 1371.2L413.9 1385.6L486.3 1332.3L457.3 1360.1L410.5 1387.0L436.5 1374.2L416.5 1384.5L401.9 1390.3L471.9 1347.3L502.1 1312.5L403.2 1389.8L462.8 1355.5L426.9 1379.5L432.4 1376.6L429.9 1378.0L422.3 1381.8L450.4 1365.3L424.5 1380.8L458.2 1359.3L449.2 1366.1L444.1 1369.5L424.6 1380.7L435.2 1375.1L475.8 1343.5L468.8 1350.3L424.9 1380.6L457.9 1359.6L478.1 1341.2L405.9 1388.8L473.1 1346.2L437.4 1373.7L475.1 1344.2L435.6 1374.8L404.8 1389.2L410.8 1386.9L461.8 1356.4L468.8 1350.3L434.3 1375.5L481.4 1337.8L412.8 1386.1L461.4 1356.7L427.5 1379.2L444.9 1369.0L466.6 1352.3L439.9 1372.2L454.8 1362.0L497.2 1319.0L450.2 1365.4L493.3 1324.0L434.8 1375.3L485.3 1333.4L513.3 1296.3L396.2 1392.2L447.2 1367.5L489.1 1329.0L466.3 1352.5L484.2 1334.7L455.4 1361.5L476.8 1342.5L470.1 1349.0L510.5 1300.5L483.7 1335.3L486.8 1331.8L464.8 1353.8L463.1 1355.3L465.4 1353.3L490.9 1326.9L466.9 1351.9L488.9 1329.3L543.3 1244.0L507.6 1304.8L472.2 1347.1L518.8 1287.8L471.0 1348.3L422.5 1381.7L454.1 1362.5L428.8 1378.6L475.1 1344.3L486.8 1331.7L537.3 1255.5L497.3 1319.0L481.5 1337.7L513.6 1295.9L422.7 1381.6L496.9 1319.4L513.6 1295.8L446.6 1367.9L526.1 1275.6L502.4 1312.1L480.4 1338.8L512.5 1297.6L562.4 1204.4L500.1 1315.2L502.7 1311.7L482.1 1337.0L470.9 1348.3L522.1 1282.4L471.9 1347.3L500.4 1314.8L484.5 1334.3L513.9 1295.5L510.1 1301.1L531.9 1265.4L486.0 1332.7L493.8 1323.4L473.1 1346.2L489.7 1328.3L515.1 1293.7L527.1 1273.9L477.2 1342.2L531.7 1265.8L546.9 1236.8L519.2 1287.2L563.8 1201.4L484.6 1334.2L471.1 1348.1L455.6 1361.4L554.7 1220.7L530.0 1268.7L509.3 1302.4L520.0 1285.9L478.3 1341.0L586.3 1150.3L517.2 1290.2L517.2 1290.2L536.4 1257.2L529.6 1269.5L522.5 1281.7L492.6 1324.9L531.1 1266.7L574.2 1178.2L558.6 1212.5L566.7 1195.0L504.0 1310.0L490.2 1327.8L516.8 1291.0L522.9 1281.1L554.7 1220.8L471.5 1347.8L569.0 1189.8L518.8 1287.7L511.3 1299.3L494.3 1322.7L475.6 1343.7L550.8 1229.0L528.8 1270.9L488.4 1329.9L488.8 1329.4L518.3 1288.5L579.2 1166.7L521.8 1282.9L485.0 1333.8L523.4 1280.1L523.2 1280.5L450.9 1364.9L531.0 1267.0L526.3 1275.3L554.8 1220.7L590.1 1141.6L568.9 1190.0L527.5 1273.1L502.9 1311.4L614.3 1085.7L539.2 1251.8L538.5 1253.3L537.9 1254.3L545.2 1240.2L535.5 1258.8L523.2 1280.5L524.6 1278.2L540.7 1249.1L525.9 1275.9L521.4 1283.5L546.7 1237.3L536.4 1257.2L589.9 1142.0L465.5 1353.2L578.7 1167.9L584.0 1155.8L484.7 1334.1L537.4 1255.3L537.1 1255.8L506.5 1306.4L526.1 1275.6L516.7 1291.1L603.4 1110.6L579.4 1166.2L590.1 1141.4L574.2 1178.1L519.1 1287.2L537.9 1254.3L569.0 1189.8L518.1 1288.8L577.0 1171.9L548.9 1232.8L545.4 1239.7L578.7 1167.9L571.3 1184.7L547.7 1235.3L594.0 1132.5L527.2 1273.7L578.9 1167.5L578.8 1167.7L552.2 1226.0L571.9 1183.2L525.1 1277.3L591.1 1139.1L558.4 1213.0L548.8 1233.0L596.7 1126.2L544.6 1241.5L524.0 1279.2L520.1 1285.6L585.8 1151.6L529.6 1269.4L621.6 1069.4L506.7 1306.1L621.0 1070.6L576.9 1172.0L568.3 1191.5L555.4 1219.4L584.4 1154.8L571.8 1183.5L606.8 1102.8L577.6 1170.4L579.3 1166.5L564.4 1199.9L574.3 1178.0L585.8 1151.4L525.7 1276.2L537.2 1255.6L600.8 1116.7L584.1 1155.4L574.1 1178.5L580.8 1163.2L591.3 1138.8L565.2 1198.3L558.6 1212.6L588.5 1145.2L553.8 1222.8L596.1 1127.6L533.2 1263.0L616.0 1081.8L599.8 1118.9L593.9 1132.6L616.4 1080.9L637.5 1035.2L618.6 1076.0L533.3 1262.9L550.7 1229.0L571.0 1185.3L591.2 1138.9L606.6 1103.2L569.8 1188.0L597.9 1123.4L570.1 1187.3L575.1 1176.2L551.7 1227.0L566.9 1194.5L554.6 1221.0L566.5 1195.4L628.2 1054.9L568.5 1190.9L676.9 964.9L613.1 1088.3L604.4 1108.2L573.7 1179.4L621.1 1070.2L583.4 1157.2L605.0 1107.0L678.9 961.9L599.6 1119.4L637.7 1034.9L582.5 1159.1L603.2 1111.0L658.2 995.6L586.6 1149.6L660.6 991.3L628.0 1055.3L590.4 1140.9L626.9 1057.6L637.8 1034.7L627.8 1055.7L562.5 1204.2L588.4 1145.4L603.5 1110.4L609.3 1097.0L630.8 1049.3L618.1 1077.1L573.2 1180.5L625.4 1061.0L632.9 1044.8L632.0 1046.8L648.3 1013.9L641.4 1027.3L630.8 1049.4L615.4 1083.0L568.2 1191.7L631.7 1047.4L625.6 1060.5L628.1 1055.0L582.1 1160.0L588.6 1144.9L653.4 1004.1L621.2 1070.2L643.5 1023.2L624.4 1063.0L625.1 1061.6L653.0 1005.0L609.9 1095.7L628.9 1053.4L612.7 1089.3L614.1 1086.0L618.5 1076.2L635.1 1040.3L614.6 1085.0L667.4 979.8L603.3 1110.9L625.2 1061.4L618.2 1076.9L675.5 966.9L638.5 1033.2L664.3 985.1L589.1 1143.8L642.4 1025.3L661.8 989.3L638.1 1034.1L668.3 978.4L621.3 1070.0L679.8 960.5L707.2 926.0L627.7 1055.9L625.8 1060.0L683.6 955.2L688.0 949.2L625.3 1061.1L629.0 1053.1L633.8 1043.0L602.4 1112.9L615.8 1082.2L613.8 1086.6L621.6 1069.4L644.2 1021.8L652.9 1005.2L693.1 942.5L617.0 1079.5L677.3 964.3L641.8 1026.5L647.4 1015.6L669.8 976.0L616.3 1081.1L662.2 988.6L656.3 999.0L666.7 981.0L661.2 990.3L727.0 907.3L634.5 1041.5L638.3 1033.6L636.1 1038.1L638.8 1032.7L636.9 1036.5L692.5 943.3L700.0 934.0L640.7 1028.7L633.5 1043.7L673.3 970.4L643.1 1024.0L679.4 961.2L667.0 980.4L615.9 1082.0L708.7 924.5L716.8 916.4L644.9 1020.4L652.3 1006.3L673.1 970.6L675.2 967.5L685.5 952.4L726.8 907.4L661.6 989.6L643.5 1023.1L626.6 1058.2L646.8 1016.8L668.3 978.3L723.9 909.8L655.0 1001.3L677.9 963.4L671.3 973.6L708.1 925.1L749.0 891.4L657.6 996.6L659.4 993.4L706.2 927.1L695.9 939.0L731.5 903.6L694.1 941.2L666.4 981.5L695.5 939.4L711.7 921.3L703.7 929.9L694.8 940.3L712.3 920.7L716.0 917.1L723.0 910.7L701.5 932.3L677.6 963.9L687.6 949.6L720.1 913.3L659.8 992.7L696.1 938.8L673.8 969.6L687.1 950.4L725.3 908.7L693.2 942.4L689.4 947.2L647.7 1015.0L711.7 921.4L709.2 923.9L755.5 887.6L681.8 957.7L698.2 936.2L699.7 934.4L740.3 897.1L690.6 945.7L702.4 931.3L712.9 920.1L700.9 933.1L682.4 956.8L702.3 931.4L729.4 905.3L666.8 980.8L702.3 931.5L677.8 963.5L735.4 900.6L654.2 1002.7L683.9 954.8L712.6 920.4L749.0 891.4L700.5 933.5L686.4 951.3L760.3 885.0L660.7 991.1L638.7 1032.8L718.7 914.5L691.0 945.2L676.0 966.3L728.6 905.9L715.2 917.8L691.5 944.5L670.6 974.7L735.9 900.2L729.9 904.9L707.9 925.3L767.1 881.7L679.9 960.4L666.8 980.8L692.5 943.2L712.5 920.5L721.8 911.7L707.9 925.3L726.3 907.8L678.7 962.2L760.4 885.0L715.1 918.0L751.7 889.8L729.0 905.6L733.1 902.4L737.1 899.4L734.0 901.7L740.5 897.0L761.7 884.3L728.3 906.2L744.3 894.4L720.9 912.6L767.5 881.5L704.4 929.1L779.5 876.3L724.8 909.1L683.5 955.3L731.0 904.0L707.3 925.9L753.7 888.7L709.3 923.8L716.2 916.9L673.3 970.3L717.2 916.0L658.5 995.1L684.3 954.1L755.5 887.6L756.8 886.9L746.6 892.9L705.3 928.1L733.6 902.0L735.5 900.6L701.4 932.5L782.0 875.3L763.8 883.2L731.4 903.7L739.4 897.7L745.5 893.6L678.4 962.6L733.0 902.5L720.5 912.9L711.5 921.5L733.8 901.9L796.9 870.3L762.7 883.8L726.8 907.4L761.9 884.2" fill="none" stroke="#ff0000" stroke-width="2.2" stroke-linejoin="round" stroke-linecap="square"/>
</g>
<path d="M59 824.5L59 1440.9L832.9 1440.9" fill="none" stroke="#3a3a3a" stroke-width="1.6" stroke-linejoin="miter"/>
<line x1="82.75" y1="1440.9" x2="82.75" y2="1436" stroke="#3a3a3a" stroke-width="1.3"/>
<line x1="203.09" y1="1440.9" x2="203.09" y2="1436" stroke="#3a3a3a" stroke-width="1.3"/>
<line x1="323.43" y1="1440.9" x2="323.43" y2="1436" stroke="#3a3a3a" stroke-width="1.3"/>
<line x1="443.78" y1="1440.9" x2="443.78" y2="1436" stroke="#3a3a3a" stroke-width="1.3"/>
<line x1="564.12" y1="1440.9" x2="564.12" y2="1436" stroke="#3a3a3a" stroke-width="1.3"/>
<line x1="684.46" y1="1440.9" x2="684.46" y2="1436" stroke="#3a3a3a" stroke-width="1.3"/>
<line x1="804.81" y1="1440.9" x2="804.81" y2="1436" stroke="#3a3a3a" stroke-width="1.3"/>
<line x1="59" y1="1412.28" x2="63.9" y2="1412.28" stroke="#3a3a3a" stroke-width="1.3"/>
<line x1="59" y1="1300.16" x2="63.9" y2="1300.16" stroke="#3a3a3a" stroke-width="1.3"/>
<line x1="59" y1="1188.04" x2="63.9" y2="1188.04" stroke="#3a3a3a" stroke-width="1.3"/>
<line x1="59" y1="1075.91" x2="63.9" y2="1075.91" stroke="#3a3a3a" stroke-width="1.3"/>
<line x1="59" y1="963.79" x2="63.9" y2="963.79" stroke="#3a3a3a" stroke-width="1.3"/>
<line x1="59" y1="851.67" x2="63.9" y2="851.67" stroke="#3a3a3a" stroke-width="1.3"/>
<text transform="translate(82.75 1458.43) scale(1 1.03)" font-size="16.67" text-anchor="middle" fill="#1e1e1e" stroke="#1e1e1e" stroke-width="0.15">40</text>
<text transform="translate(203.09 1458.43) scale(1 1.03)" font-size="16.67" text-anchor="middle" fill="#1e1e1e" stroke="#1e1e1e" stroke-width="0.15">60</text>
<text transform="translate(323.43 1458.43) scale(1 1.03)" font-size="16.67" text-anchor="middle" fill="#1e1e1e" stroke="#1e1e1e" stroke-width="0.15">80</text>
<text transform="translate(443.78 1458.43) scale(1 1.03)" font-size="16.67" text-anchor="middle" fill="#1e1e1e" stroke="#1e1e1e" stroke-width="0.15">100</text>
<text transform="translate(564.12 1458.43) scale(1 1.03)" font-size="16.67" text-anchor="middle" fill="#1e1e1e" stroke="#1e1e1e" stroke-width="0.15">120</text>
<text transform="translate(684.46 1458.43) scale(1 1.03)" font-size="16.67" text-anchor="middle" fill="#1e1e1e" stroke="#1e1e1e" stroke-width="0.15">140</text>
<text transform="translate(804.81 1458.43) scale(1 1.03)" font-size="16.67" text-anchor="middle" fill="#1e1e1e" stroke="#1e1e1e" stroke-width="0.15">160</text>
<text transform="translate(53.14 1418.62) scale(1 1.03)" font-size="16.67" text-anchor="end" fill="#1e1e1e" stroke="#1e1e1e" stroke-width="0.15">0.0</text>
<text transform="translate(53.14 1306.49) scale(1 1.03)" font-size="16.67" text-anchor="end" fill="#1e1e1e" stroke="#1e1e1e" stroke-width="0.15">0.2</text>
<text transform="translate(53.14 1194.37) scale(1 1.03)" font-size="16.67" text-anchor="end" fill="#1e1e1e" stroke="#1e1e1e" stroke-width="0.15">0.4</text>
<text transform="translate(53.14 1082.25) scale(1 1.03)" font-size="16.67" text-anchor="end" fill="#1e1e1e" stroke="#1e1e1e" stroke-width="0.15">0.6</text>
<text transform="translate(53.14 970.12) scale(1 1.03)" font-size="16.67" text-anchor="end" fill="#1e1e1e" stroke="#1e1e1e" stroke-width="0.15">0.8</text>
<text transform="translate(53.14 858) scale(1 1.03)" font-size="16.67" text-anchor="end" fill="#1e1e1e" stroke="#1e1e1e" stroke-width="0.15">1.0</text>
<text transform="translate(445.05 816.57) scale(1 1.03)" font-size="19.53" text-anchor="middle" fill="#1e1e1e" stroke="#1e1e1e" stroke-width="0.15">Transformation into Fuzzy Sets: Stock Price</text>
<text transform="translate(445.05 1480.66) scale(1 1.03)" font-size="16.85" text-anchor="middle" fill="#1e1e1e" stroke="#1e1e1e" stroke-width="0.15">Stock Price</text>
<text transform="translate(16.67 1132.7) rotate(-90) scale(1 1.03)" font-size="16.85" text-anchor="middle" fill="#1e1e1e" stroke="#1e1e1e" stroke-width="0.15">Membership Degree</text>
<rect x="718" y="1098.6" width="106.8" height="68.2" rx="2.8" ry="2.8" fill="#ffffff" fill-opacity="0.8" stroke="#cccccc" stroke-width="1.4"/>
<line x1="723.6" y1="1110.6" x2="751.4" y2="1110.6" stroke="#008000" stroke-width="2.2" stroke-linecap="square"/>
<text transform="translate(762.5 1115.5) scale(1 1.03)" font-size="14.0" text-anchor="start" fill="#1e1e1e" stroke="#1e1e1e" stroke-width="0.15">Low</text>
<line x1="723.6" y1="1131.8" x2="751.4" y2="1131.8" stroke="#ffa500" stroke-width="2.2" stroke-linecap="square"/>
<text transform="translate(762.5 1136.7) scale(1 1.03)" font-size="14.0" text-anchor="start" fill="#1e1e1e" stroke="#1e1e1e" stroke-width="0.15">Medium</text>
<line x1="723.6" y1="1153" x2="751.4" y2="1153" stroke="#ff0000" stroke-width="2.2" stroke-linecap="square"/>
<text transform="translate(762.5 1157.9) scale(1 1.03)" font-size="14.0" text-anchor="start" fill="#1e1e1e" stroke="#1e1e1e" stroke-width="0.15">High</text>
<rect x="1011.8" y="27.8" width="156.4" height="153.8" fill="#b40426"/>
<rect x="1167.9" y="27.8" width="153.8" height="153.8" fill="#3b4cc0"/>
<rect x="1321.4" y="27.8" width="154.9" height="153.8" fill="#d44e41"/>
<rect x="1476" y="27.8" width="155.2" height="153.8" fill="#f39475"/>
<rect x="1011.8" y="181.3" width="156.4" height="153.3" fill="#3b4cc0"/>
<rect x="1167.9" y="181.3" width="153.8" height="153.3" fill="#b40426"/>
<rect x="1321.4" y="181.3" width="154.9" height="153.3" fill="#4f69d9"/>
<rect x="1476" y="181.3" width="155.2" height="153.3" fill="#6f92f3"/>
<rect x="1011.8" y="334.3" width="156.4" height="155.4" fill="#d44e41"/>
<rect x="1167.9" y="334.3" width="153.8" height="155.4" fill="#4f69d9"/>
<rect x="1321.4" y="334.3" width="154.9" height="155.4" fill="#b40426"/>
<rect x="1476" y="334.3" width="155.2" height="155.4" fill="#f7a889"/>
<rect x="1011.8" y="489.4" width="156.4" height="153.1" fill="#f39475"/>
<rect x="1167.9" y="489.4" width="153.8" height="153.1" fill="#6f92f3"/>
<rect x="1321.4" y="489.4" width="154.9" height="153.1" fill="#f7a889"/>
<rect x="1476" y="489.4" width="155.2" height="153.1" fill="#b40426"/>
<text transform="translate(1089.85 108.38) scale(1 1.03)" font-size="13.89" text-anchor="middle" fill="#ffffff" stroke="#ffffff" stroke-width="0.15">1</text>
<text transform="translate(1244.65 108.38) scale(1 1.03)" font-size="13.89" text-anchor="middle" fill="#ffffff" stroke="#ffffff" stroke-width="0.15">-0.77</text>
<text transform="translate(1398.7 108.38) scale(1 1.03)" font-size="13.89" text-anchor="middle" fill="#ffffff" stroke="#ffffff" stroke-width="0.15">0.84</text>
<text transform="translate(1553.6 108.38) scale(1 1.03)" font-size="13.89" text-anchor="middle" fill="#262626" stroke="#262626" stroke-width="0.15">0.58</text>
<text transform="translate(1089.85 261.63) scale(1 1.03)" font-size="13.89" text-anchor="middle" fill="#ffffff" stroke="#ffffff" stroke-width="0.15">-0.77</text>
<text transform="translate(1244.65 261.63) scale(1 1.03)" font-size="13.89" text-anchor="middle" fill="#ffffff" stroke="#ffffff" stroke-width="0.15">1</text>
<text transform="translate(1398.7 261.63) scale(1 1.03)" font-size="13.89" text-anchor="middle" fill="#ffffff" stroke="#ffffff" stroke-width="0.15">-0.65</text>
<text transform="translate(1553.6 261.63) scale(1 1.03)" font-size="13.89" text-anchor="middle" fill="#ffffff" stroke="#ffffff" stroke-width="0.15">-0.48</text>
<text transform="translate(1089.85 415.68) scale(1 1.03)" font-size="13.89" text-anchor="middle" fill="#ffffff" stroke="#ffffff" stroke-width="0.15">0.84</text>
<text transform="translate(1244.65 415.68) scale(1 1.03)" font-size="13.89" text-anchor="middle" fill="#ffffff" stroke="#ffffff" stroke-width="0.15">-0.65</text>
<text transform="translate(1398.7 415.68) scale(1 1.03)" font-size="13.89" text-anchor="middle" fill="#ffffff" stroke="#ffffff" stroke-width="0.15">1</text>
<text transform="translate(1553.6 415.68) scale(1 1.03)" font-size="13.89" text-anchor="middle" fill="#262626" stroke="#262626" stroke-width="0.15">0.49</text>
<text transform="translate(1089.85 569.78) scale(1 1.03)" font-size="13.89" text-anchor="middle" fill="#262626" stroke="#262626" stroke-width="0.15">0.58</text>
<text transform="translate(1244.65 569.78) scale(1 1.03)" font-size="13.89" text-anchor="middle" fill="#ffffff" stroke="#ffffff" stroke-width="0.15">-0.48</text>
<text transform="translate(1398.7 569.78) scale(1 1.03)" font-size="13.89" text-anchor="middle" fill="#262626" stroke="#262626" stroke-width="0.15">0.49</text>
<text transform="translate(1553.6 569.78) scale(1 1.03)" font-size="13.89" text-anchor="middle" fill="#ffffff" stroke="#ffffff" stroke-width="0.15">1</text>
<line x1="1011.8" y1="104.55" x2="1016.7" y2="104.55" stroke="#262626" stroke-width="1.3"/>
<text transform="translate(1006.94 109.15) scale(1 1.03)" font-size="16.67" text-anchor="end" fill="#1e1e1e" stroke="#1e1e1e" stroke-width="0.15">Stock Price</text>
<line x1="1089.85" y1="642.6" x2="1089.85" y2="637.7" stroke="#262626" stroke-width="1.3"/>
<text transform="translate(1094.45 649.06) rotate(-90) scale(1 1.03)" font-size="16.67" text-anchor="end" fill="#1e1e1e" stroke="#1e1e1e" stroke-width="0.15">Stock Price</text>
<line x1="1011.8" y1="257.8" x2="1016.7" y2="257.8" stroke="#262626" stroke-width="1.3"/>
<text transform="translate(1006.94 262.4) scale(1 1.03)" font-size="16.67" text-anchor="end" fill="#1e1e1e" stroke="#1e1e1e" stroke-width="0.15">Interest Rate</text>
<line x1="1244.65" y1="642.6" x2="1244.65" y2="637.7" stroke="#262626" stroke-width="1.3"/>
<text transform="translate(1249.25 649.06) rotate(-90) scale(1 1.03)" font-size="16.67" text-anchor="end" fill="#1e1e1e" stroke="#1e1e1e" stroke-width="0.15">Interest Rate</text>
<line x1="1011.8" y1="411.85" x2="1016.7" y2="411.85" stroke="#262626" stroke-width="1.3"/>
<text transform="translate(1006.94 416.45) scale(1 1.03)" font-size="16.67" text-anchor="end" fill="#1e1e1e" stroke="#1e1e1e" stroke-width="0.15">Economic Indicator</text>
<line x1="1398.7" y1="642.6" x2="1398.7" y2="637.7" stroke="#262626" stroke-width="1.3"/>
<text transform="translate(1403.3 649.06) rotate(-90) scale(1 1.03)" font-size="16.67" text-anchor="end" fill="#1e1e1e" stroke="#1e1e1e" stroke-width="0.15">Economic Indicator</text>
<line x1="1011.8" y1="565.95" x2="1016.7" y2="565.95" stroke="#262626" stroke-width="1.3"/>
<text transform="translate(1006.94 570.55) scale(1 1.03)" font-size="16.67" text-anchor="end" fill="#1e1e1e" stroke="#1e1e1e" stroke-width="0.15">Market Sentiment</text>
<line x1="1553.6" y1="642.6" x2="1553.6" y2="637.7" stroke="#262626" stroke-width="1.3"/>
<text transform="translate(1558.2 649.06) rotate(-90) scale(1 1.03)" font-size="16.67" text-anchor="end" fill="#1e1e1e" stroke="#1e1e1e" stroke-width="0.15">Market Sentiment</text>
<text transform="translate(1321.45 19.47) scale(1 1.03)" font-size="19.53" text-anchor="middle" fill="#1e1e1e" stroke="#1e1e1e" stroke-width="0.15">Feature Correlation Analysis</text>
<defs><linearGradient id="cb" x1="0" y1="1" x2="0" y2="0">
<stop offset="0.0000" stop-color="#3b4cc0"/>
<stop offset="0.0156" stop-color="#3f53c6"/>
<stop offset="0.0312" stop-color="#445acc"/>
<stop offset="0.0469" stop-color="#4961d2"/>
<stop offset="0.0625" stop-color="#4e68d8"/>
<stop offset="0.0781" stop-color="#536edd"/>
<stop offset="0.0938" stop-color="#5875e1"/>
<stop offset="0.1094" stop-color="#5d7ce6"/>
<stop offset="0.1250" stop-color="#6282ea"/>
<stop offset="0.1406" stop-color="#6788ee"/>
<stop offset="0.1562" stop-color="#6c8ff1"/>
<stop offset="0.1719" stop-color="#7295f4"/>
<stop offset="0.1875" stop-color="#779af7"/>
<stop offset="0.2031" stop-color="#7da0f9"/>
<stop offset="0.2188" stop-color="#82a6fb"/>
<stop offset="0.2344" stop-color="#88abfd"/>
<stop offset="0.2500" stop-color="#8db0fe"/>
<stop offset="0.2656" stop-color="#93b5fe"/>
<stop offset="0.2812" stop-color="#98b9ff"/>
<stop offset="0.2969" stop-color="#9ebeff"/>
<stop offset="0.3125" stop-color="#a3c2fe"/>
<stop offset="0.3281" stop-color="#a9c6fd"/>
<stop offset="0.3438" stop-color="#aec9fc"/>
<stop offset="0.3594" stop-color="#b3cdfb"/>
<stop offset="0.3750" stop-color="#b9d0f9"/>
<stop offset="0.3906" stop-color="#bed2f6"/>
<stop offset="0.4062" stop-color="#c3d5f4"/>
<stop offset="0.4219" stop-color="#c7d7f0"/>
<stop offset="0.4375" stop-color="#ccd9ed"/>
<stop offset="0.4531" stop-color="#d1dae9"/>
<stop offset="0.4688" stop-color="#d5dbe5"/>
<stop offset="0.4844" stop-color="#d9dce1"/>
<stop offset="0.5000" stop-color="#dddcdc"/>
<stop offset="0.5156" stop-color="#e1dad6"/>
<stop offset="0.5312" stop-color="#e5d8d1"/>
<stop offset="0.5469" stop-color="#e9d5cb"/>
<stop offset="0.5625" stop-color="#ecd3c5"/>
<stop offset="0.5781" stop-color="#efcfbf"/>
<stop offset="0.5938" stop-color="#f1ccb8"/>
<stop offset="0.6094" stop-color="#f3c8b2"/>
<stop offset="0.6250" stop-color="#f5c4ac"/>
<stop offset="0.6406" stop-color="#f6bfa6"/>
<stop offset="0.6562" stop-color="#f7ba9f"/>
<stop offset="0.6719" stop-color="#f7b599"/>
<stop offset="0.6875" stop-color="#f7b093"/>
<stop offset="0.7031" stop-color="#f7aa8c"/>
<stop offset="0.7188" stop-color="#f6a586"/>
<stop offset="0.7344" stop-color="#f59f80"/>
<stop offset="0.7500" stop-color="#f4987a"/>
<stop offset="0.7656" stop-color="#f29274"/>
<stop offset="0.7812" stop-color="#f08b6e"/>
<stop offset="0.7969" stop-color="#ee8468"/>
<stop offset="0.8125" stop-color="#eb7d62"/>
<stop offset="0.8281" stop-color="#e8765c"/>
<stop offset="0.8438" stop-color="#e46e56"/>
<stop offset="0.8594" stop-color="#e16751"/>
<stop offset="0.8750" stop-color="#dd5f4b"/>
<stop offset="0.8906" stop-color="#d85646"/>
<stop offset="0.9062" stop-color="#d44e41"/>
<stop offset="0.9219" stop-color="#cf453c"/>
<stop offset="0.9375" stop-color="#ca3b37"/>
<stop offset="0.9531" stop-color="#c43032"/>
<stop offset="0.9688" stop-color="#be242e"/>
<stop offset="0.9844" stop-color="#b8122a"/>
<stop offset="1.0000" stop-color="#b40426"/>
</linearGradient></defs>
<rect x="1670.0" y="27.8" width="30.7" height="614.8" fill="url(#cb)"/>
<line x1="1700.7" y1="582.7" x2="1695.8" y2="582.7" stroke="#262626" stroke-width="1.3"/>
<text transform="translate(1705.56 589.34) scale(1 1.03)" font-size="16.67" text-anchor="start" fill="#1e1e1e" stroke="#1e1e1e" stroke-width="0.15">−0.6</text>
<line x1="1700.7" y1="513.34" x2="1695.8" y2="513.34" stroke="#262626" stroke-width="1.3"/>
<text transform="translate(1705.56 519.97) scale(1 1.03)" font-size="16.67" text-anchor="start" fill="#1e1e1e" stroke="#1e1e1e" stroke-width="0.15">−0.4</text>
<line x1="1700.7" y1="443.98" x2="1695.8" y2="443.98" stroke="#262626" stroke-width="1.3"/>
<text transform="translate(1705.56 450.61) scale(1 1.03)" font-size="16.67" text-anchor="start" fill="#1e1e1e" stroke="#1e1e1e" stroke-width="0.15">−0.2</text>
<line x1="1700.7" y1="374.62" x2="1695.8" y2="374.62" stroke="#262626" stroke-width="1.3"/>
<text transform="translate(1705.56 381.25) scale(1 1.03)" font-size="16.67" text-anchor="start" fill="#1e1e1e" stroke="#1e1e1e" stroke-width="0.15">0.0</text>
<line x1="1700.7" y1="305.25" x2="1695.8" y2="305.25" stroke="#262626" stroke-width="1.3"/>
<text transform="translate(1705.56 311.89) scale(1 1.03)" font-size="16.67" text-anchor="start" fill="#1e1e1e" stroke="#1e1e1e" stroke-width="0.15">0.2</text>
<line x1="1700.7" y1="235.89" x2="1695.8" y2="235.89" stroke="#262626" stroke-width="1.3"/>
<text transform="translate(1705.56 242.52) scale(1 1.03)" font-size="16.67" text-anchor="start" fill="#1e1e1e" stroke="#1e1e1e" stroke-width="0.15">0.4</text>
<line x1="1700.7" y1="166.53" x2="1695.8" y2="166.53" stroke="#262626" stroke-width="1.3"/>
<text transform="translate(1705.56 173.16) scale(1 1.03)" font-size="16.67" text-anchor="start" fill="#1e1e1e" stroke="#1e1e1e" stroke-width="0.15">0.6</text>
<line x1="1700.7" y1="97.16" x2="1695.8" y2="97.16" stroke="#262626" stroke-width="1.3"/>
<text transform="translate(1705.56 103.8) scale(1 1.03)" font-size="16.67" text-anchor="start" fill="#1e1e1e" stroke="#1e1e1e" stroke-width="0.15">0.8</text>
<line x1="1700.7" y1="27.8" x2="1695.8" y2="27.8" stroke="#262626" stroke-width="1.3"/>
<text transform="translate(1705.56 34.43) scale(1 1.03)" font-size="16.67" text-anchor="start" fill="#1e1e1e" stroke="#1e1e1e" stroke-width="0.15">1.0</text>
</g>
</svg>
</body>
</html>
